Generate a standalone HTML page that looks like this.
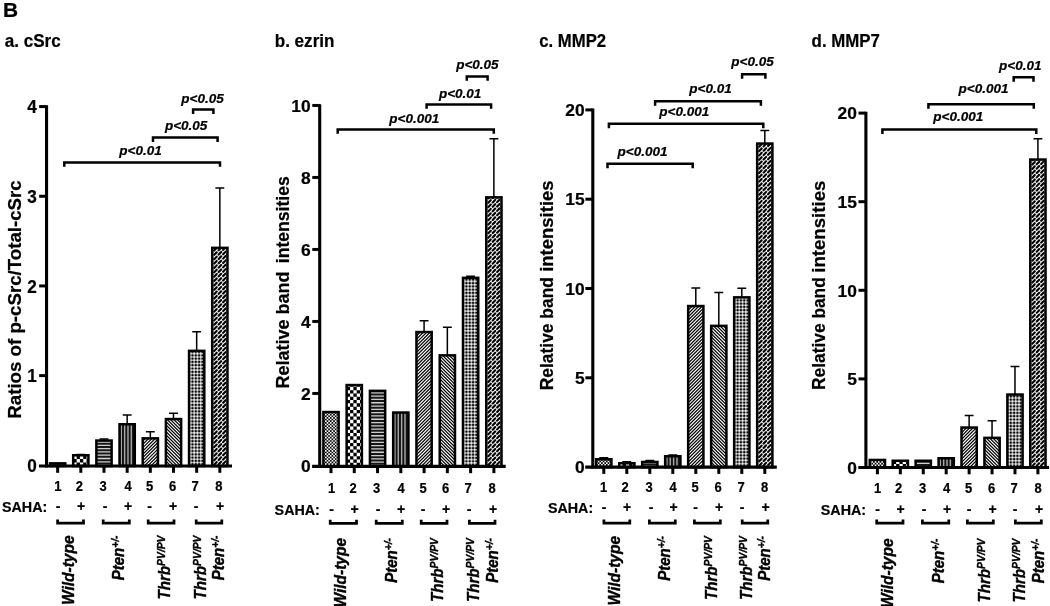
<!DOCTYPE html>
<html><head><meta charset="utf-8"><title>Figure B</title>
<style>
html,body{margin:0;padding:0;background:#fff;}
body{width:1050px;height:606px;overflow:hidden;}
svg{display:block;}
#fig{opacity:0.999;}
text{font-family:"Liberation Sans", sans-serif;font-weight:bold;fill:#000;stroke:#000;stroke-width:0.22px;stroke-linejoin:round;}
.it{font-style:italic;}
.rot{stroke-width:0.4px;}
.it{font-style:italic;}
</style></head><body>
<svg id="fig" width="1050" height="606" viewBox="0 0 1050 606">

<defs><filter id="soft" x="-5%" y="-5%" width="110%" height="110%"><feConvolveMatrix order="3" kernelMatrix="0.01 0.07 0.01 0.07 0.68 0.07 0.01 0.07 0.01" divisor="1" edgeMode="duplicate" preserveAlpha="true" color-interpolation-filters="sRGB"/></filter></defs>
<rect width="1050" height="606" fill="#fff"/>
<text x="3.0" y="16.7" font-size="20.9">B</text>

<g>
<text transform="translate(4.7,46.75) scale(0.9546,1)" font-size="17.9">a. cSrc</text>
<text transform="translate(21.0,299.5) rotate(-90)" text-anchor="middle" font-size="18.7">Ratios of p-cSrc/Total-cSrc</text>
<svg x="49.77" y="463.10" width="15.75" height="2.90" viewBox="1 -2.90 15.75 2.90" overflow="hidden"><g><rect x="0" y="-4.90" width="17.75" height="5.90" fill="#000"/><path d="M-2.10,-0.62H18.75M-2.10,-3.92H18.75" stroke="#fff" stroke-width="1.65" stroke-dasharray="1.65 1.65" fill="none"/><path d="M-0.45,-2.27H18.75" stroke="#fff" stroke-width="1.65" stroke-dasharray="1.65 1.65" fill="none"/></g></svg>
<rect x="50.02" y="463.35" width="15.25" height="2.65" fill="none" stroke="#000" stroke-width="2.5"/>
<path d="M80.82,455.00 V454.40 M76.37,454.40 H85.27" stroke="#000" stroke-width="1.5" fill="none"/>
<svg x="72.94" y="455.00" width="15.75" height="11.00" viewBox="1 -11.00 15.75 11.00" overflow="hidden"><g><rect x="0" y="-13.00" width="17.75" height="14.00" fill="#000"/><path d="M-5.20,-1.95H18.75M-5.20,-8.55H18.75M-5.20,-15.15H18.75" stroke="#fff" stroke-width="3.3" stroke-dasharray="3.3 3.3" fill="none"/><path d="M-1.90,-5.25H18.75M-1.90,-11.85H18.75" stroke="#fff" stroke-width="3.3" stroke-dasharray="3.3 3.3" fill="none"/></g></svg>
<rect x="73.19" y="455.25" width="15.25" height="10.75" fill="none" stroke="#000" stroke-width="2.5"/>
<path d="M103.99,440.30 V438.95 M99.54,438.95 H108.44" stroke="#000" stroke-width="1.5" fill="none"/>
<svg x="96.12" y="440.30" width="15.75" height="25.70" viewBox="1 -25.70 15.75 25.70" overflow="hidden"><g filter="url(#soft)"><rect x="0" y="-27.70" width="17.75" height="28.70" fill="#000"/><path d="M0,-0.90H17.75M0,-4.20H17.75M0,-7.50H17.75M0,-10.80H17.75M0,-14.10H17.75M0,-17.40H17.75M0,-20.70H17.75M0,-24.00H17.75M0,-27.30H17.75" stroke="#f2f2f2" stroke-width="1.3" fill="none"/></g></svg>
<rect x="96.37" y="440.55" width="15.25" height="25.45" fill="none" stroke="#000" stroke-width="2.5"/>
<path d="M127.16,424.00 V415.00 M122.71,415.00 H131.61" stroke="#000" stroke-width="1.5" fill="none"/>
<svg x="119.28" y="424.00" width="15.75" height="42.00" viewBox="1 -42.00 15.75 42.00" overflow="hidden"><g filter="url(#soft)"><rect x="0" y="-44.00" width="17.75" height="45.00" fill="#000"/><path d="M3.00,-44.00V1M6.35,-44.00V1M9.70,-44.00V1M13.05,-44.00V1M16.40,-44.00V1" stroke="#c4c4c4" stroke-width="1.4" fill="none"/></g></svg>
<rect x="119.53" y="424.25" width="15.25" height="41.75" fill="none" stroke="#000" stroke-width="2.5"/>
<path d="M150.33,438.10 V431.70 M145.88,431.70 H154.78" stroke="#000" stroke-width="1.5" fill="none"/>
<svg x="142.46" y="438.10" width="15.75" height="27.90" viewBox="1 -27.90 15.75 27.90" overflow="hidden"><g><rect x="0" y="-29.90" width="17.75" height="30.90" fill="#000"/><path d="M-1,-34.10L18.75,-53.85M-1,-30.80L18.75,-50.55M-1,-27.50L18.75,-47.25M-1,-24.20L18.75,-43.95M-1,-20.90L18.75,-40.65M-1,-17.60L18.75,-37.35M-1,-14.30L18.75,-34.05M-1,-11.00L18.75,-30.75M-1,-7.70L18.75,-27.45M-1,-4.40L18.75,-24.15M-1,-1.10L18.75,-20.85M-1,2.20L18.75,-17.55M-1,5.50L18.75,-14.25M-1,8.80L18.75,-10.95M-1,12.10L18.75,-7.65M-1,15.40L18.75,-4.35M-1,18.70L18.75,-1.05" stroke="#fff" stroke-width="1.12" fill="none"/></g></svg>
<rect x="142.71" y="438.35" width="15.25" height="27.65" fill="none" stroke="#000" stroke-width="2.5"/>
<path d="M173.50,418.80 V413.20 M169.05,413.20 H177.95" stroke="#000" stroke-width="1.5" fill="none"/>
<svg x="165.62" y="418.80" width="15.75" height="47.20" viewBox="1 -47.20 15.75 47.20" overflow="hidden"><g><rect x="0" y="-49.20" width="17.75" height="50.20" fill="#000"/><path d="M-1,1.10L18.75,20.85M-1,-2.20L18.75,17.55M-1,-5.50L18.75,14.25M-1,-8.80L18.75,10.95M-1,-12.10L18.75,7.65M-1,-15.40L18.75,4.35M-1,-18.70L18.75,1.05M-1,-22.00L18.75,-2.25M-1,-25.30L18.75,-5.55M-1,-28.60L18.75,-8.85M-1,-31.90L18.75,-12.15M-1,-35.20L18.75,-15.45M-1,-38.50L18.75,-18.75M-1,-41.80L18.75,-22.05M-1,-45.10L18.75,-25.35M-1,-48.40L18.75,-28.65M-1,-51.70L18.75,-31.95M-1,-55.00L18.75,-35.25M-1,-58.30L18.75,-38.55M-1,-61.60L18.75,-41.85M-1,-64.90L18.75,-45.15M-1,-68.20L18.75,-48.45M-1,-71.50L18.75,-51.75" stroke="#fff" stroke-width="1.12" fill="none"/></g></svg>
<rect x="165.88" y="419.05" width="15.25" height="46.95" fill="none" stroke="#000" stroke-width="2.5"/>
<path d="M196.67,350.60 V331.70 M192.22,331.70 H201.12" stroke="#000" stroke-width="1.5" fill="none"/>
<svg x="188.80" y="350.60" width="15.75" height="115.40" viewBox="1 -115.40 15.75 115.40" overflow="hidden"><g><rect x="0" y="-117.40" width="17.75" height="118.40" fill="#000"/><path d="M3.05,-117.40V1M6.35,-117.40V1M9.65,-117.40V1M12.95,-117.40V1M16.25,-117.40V1" stroke="#fff" stroke-opacity="0.6" stroke-width="1.6" fill="none"/><path d="M0,-0.15H17.75M0,-3.45H17.75M0,-6.75H17.75M0,-10.05H17.75M0,-13.35H17.75M0,-16.65H17.75M0,-19.95H17.75M0,-23.25H17.75M0,-26.55H17.75M0,-29.85H17.75M0,-33.15H17.75M0,-36.45H17.75M0,-39.75H17.75M0,-43.05H17.75M0,-46.35H17.75M0,-49.65H17.75M0,-52.95H17.75M0,-56.25H17.75M0,-59.55H17.75M0,-62.85H17.75M0,-66.15H17.75M0,-69.45H17.75M0,-72.75H17.75M0,-76.05H17.75M0,-79.35H17.75M0,-82.65H17.75M0,-85.95H17.75M0,-89.25H17.75M0,-92.55H17.75M0,-95.85H17.75M0,-99.15H17.75M0,-102.45H17.75M0,-105.75H17.75M0,-109.05H17.75M0,-112.35H17.75M0,-115.65H17.75" stroke="#fff" stroke-opacity="0.6" stroke-width="1.6" fill="none"/><path d="M2.50,-0.15h1.1M5.80,-0.15h1.1M9.10,-0.15h1.1M12.40,-0.15h1.1M15.70,-0.15h1.1M2.50,-3.45h1.1M5.80,-3.45h1.1M9.10,-3.45h1.1M12.40,-3.45h1.1M15.70,-3.45h1.1M2.50,-6.75h1.1M5.80,-6.75h1.1M9.10,-6.75h1.1M12.40,-6.75h1.1M15.70,-6.75h1.1M2.50,-10.05h1.1M5.80,-10.05h1.1M9.10,-10.05h1.1M12.40,-10.05h1.1M15.70,-10.05h1.1M2.50,-13.35h1.1M5.80,-13.35h1.1M9.10,-13.35h1.1M12.40,-13.35h1.1M15.70,-13.35h1.1M2.50,-16.65h1.1M5.80,-16.65h1.1M9.10,-16.65h1.1M12.40,-16.65h1.1M15.70,-16.65h1.1M2.50,-19.95h1.1M5.80,-19.95h1.1M9.10,-19.95h1.1M12.40,-19.95h1.1M15.70,-19.95h1.1M2.50,-23.25h1.1M5.80,-23.25h1.1M9.10,-23.25h1.1M12.40,-23.25h1.1M15.70,-23.25h1.1M2.50,-26.55h1.1M5.80,-26.55h1.1M9.10,-26.55h1.1M12.40,-26.55h1.1M15.70,-26.55h1.1M2.50,-29.85h1.1M5.80,-29.85h1.1M9.10,-29.85h1.1M12.40,-29.85h1.1M15.70,-29.85h1.1M2.50,-33.15h1.1M5.80,-33.15h1.1M9.10,-33.15h1.1M12.40,-33.15h1.1M15.70,-33.15h1.1M2.50,-36.45h1.1M5.80,-36.45h1.1M9.10,-36.45h1.1M12.40,-36.45h1.1M15.70,-36.45h1.1M2.50,-39.75h1.1M5.80,-39.75h1.1M9.10,-39.75h1.1M12.40,-39.75h1.1M15.70,-39.75h1.1M2.50,-43.05h1.1M5.80,-43.05h1.1M9.10,-43.05h1.1M12.40,-43.05h1.1M15.70,-43.05h1.1M2.50,-46.35h1.1M5.80,-46.35h1.1M9.10,-46.35h1.1M12.40,-46.35h1.1M15.70,-46.35h1.1M2.50,-49.65h1.1M5.80,-49.65h1.1M9.10,-49.65h1.1M12.40,-49.65h1.1M15.70,-49.65h1.1M2.50,-52.95h1.1M5.80,-52.95h1.1M9.10,-52.95h1.1M12.40,-52.95h1.1M15.70,-52.95h1.1M2.50,-56.25h1.1M5.80,-56.25h1.1M9.10,-56.25h1.1M12.40,-56.25h1.1M15.70,-56.25h1.1M2.50,-59.55h1.1M5.80,-59.55h1.1M9.10,-59.55h1.1M12.40,-59.55h1.1M15.70,-59.55h1.1M2.50,-62.85h1.1M5.80,-62.85h1.1M9.10,-62.85h1.1M12.40,-62.85h1.1M15.70,-62.85h1.1M2.50,-66.15h1.1M5.80,-66.15h1.1M9.10,-66.15h1.1M12.40,-66.15h1.1M15.70,-66.15h1.1M2.50,-69.45h1.1M5.80,-69.45h1.1M9.10,-69.45h1.1M12.40,-69.45h1.1M15.70,-69.45h1.1M2.50,-72.75h1.1M5.80,-72.75h1.1M9.10,-72.75h1.1M12.40,-72.75h1.1M15.70,-72.75h1.1M2.50,-76.05h1.1M5.80,-76.05h1.1M9.10,-76.05h1.1M12.40,-76.05h1.1M15.70,-76.05h1.1M2.50,-79.35h1.1M5.80,-79.35h1.1M9.10,-79.35h1.1M12.40,-79.35h1.1M15.70,-79.35h1.1M2.50,-82.65h1.1M5.80,-82.65h1.1M9.10,-82.65h1.1M12.40,-82.65h1.1M15.70,-82.65h1.1M2.50,-85.95h1.1M5.80,-85.95h1.1M9.10,-85.95h1.1M12.40,-85.95h1.1M15.70,-85.95h1.1M2.50,-89.25h1.1M5.80,-89.25h1.1M9.10,-89.25h1.1M12.40,-89.25h1.1M15.70,-89.25h1.1M2.50,-92.55h1.1M5.80,-92.55h1.1M9.10,-92.55h1.1M12.40,-92.55h1.1M15.70,-92.55h1.1M2.50,-95.85h1.1M5.80,-95.85h1.1M9.10,-95.85h1.1M12.40,-95.85h1.1M15.70,-95.85h1.1M2.50,-99.15h1.1M5.80,-99.15h1.1M9.10,-99.15h1.1M12.40,-99.15h1.1M15.70,-99.15h1.1M2.50,-102.45h1.1M5.80,-102.45h1.1M9.10,-102.45h1.1M12.40,-102.45h1.1M15.70,-102.45h1.1M2.50,-105.75h1.1M5.80,-105.75h1.1M9.10,-105.75h1.1M12.40,-105.75h1.1M15.70,-105.75h1.1M2.50,-109.05h1.1M5.80,-109.05h1.1M9.10,-109.05h1.1M12.40,-109.05h1.1M15.70,-109.05h1.1M2.50,-112.35h1.1M5.80,-112.35h1.1M9.10,-112.35h1.1M12.40,-112.35h1.1M15.70,-112.35h1.1M2.50,-115.65h1.1M5.80,-115.65h1.1M9.10,-115.65h1.1M12.40,-115.65h1.1M15.70,-115.65h1.1" stroke="#fff" stroke-opacity="0.85" stroke-width="1.1" fill="none"/></g></svg>
<rect x="189.05" y="350.85" width="15.25" height="115.15" fill="none" stroke="#000" stroke-width="2.5"/>
<path d="M219.84,247.60 V188.00 M215.39,188.00 H224.29" stroke="#000" stroke-width="1.5" fill="none"/>
<svg x="211.97" y="247.60" width="15.75" height="218.40" viewBox="1 -218.40 15.75 218.40" overflow="hidden"><g><rect x="0" y="-220.40" width="17.75" height="221.40" fill="#f2f2f2"/><path d="M-1.19,7.64l2.48,-2.60M-1.19,3.27l2.48,-2.60M-1.19,-1.10l2.48,-2.60M-1.19,-5.47l2.48,-2.60M-1.19,-9.84l2.48,-2.60M-1.19,-14.21l2.48,-2.60M-1.19,-18.58l2.48,-2.60M-1.19,-22.95l2.48,-2.60M-1.19,-27.32l2.48,-2.60M-1.19,-31.69l2.48,-2.60M-1.19,-36.06l2.48,-2.60M-1.19,-40.43l2.48,-2.60M-1.19,-44.80l2.48,-2.60M-1.19,-49.17l2.48,-2.60M-1.19,-53.54l2.48,-2.60M-1.19,-57.91l2.48,-2.60M-1.19,-62.28l2.48,-2.60M-1.19,-66.65l2.48,-2.60M-1.19,-71.02l2.48,-2.60M-1.19,-75.39l2.48,-2.60M-1.19,-79.76l2.48,-2.60M-1.19,-84.13l2.48,-2.60M-1.19,-88.50l2.48,-2.60M-1.19,-92.87l2.48,-2.60M-1.19,-97.24l2.48,-2.60M-1.19,-101.61l2.48,-2.60M-1.19,-105.98l2.48,-2.60M-1.19,-110.35l2.48,-2.60M-1.19,-114.72l2.48,-2.60M-1.19,-119.09l2.48,-2.60M-1.19,-123.46l2.48,-2.60M-1.19,-127.83l2.48,-2.60M-1.19,-132.20l2.48,-2.60M-1.19,-136.57l2.48,-2.60M-1.19,-140.94l2.48,-2.60M-1.19,-145.31l2.48,-2.60M-1.19,-149.68l2.48,-2.60M-1.19,-154.05l2.48,-2.60M-1.19,-158.42l2.48,-2.60M-1.19,-162.79l2.48,-2.60M-1.19,-167.16l2.48,-2.60M-1.19,-171.53l2.48,-2.60M-1.19,-175.90l2.48,-2.60M-1.19,-180.27l2.48,-2.60M-1.19,-184.64l2.48,-2.60M-1.19,-189.01l2.48,-2.60M-1.19,-193.38l2.48,-2.60M-1.19,-197.75l2.48,-2.60M-1.19,-202.12l2.48,-2.60M-1.19,-206.49l2.48,-2.60M-1.19,-210.86l2.48,-2.60M-1.19,-215.23l2.48,-2.60M-1.19,-219.60l2.48,-2.60M3.26,7.34l2.48,-2.60M3.26,2.97l2.48,-2.60M3.26,-1.40l2.48,-2.60M3.26,-5.77l2.48,-2.60M3.26,-10.14l2.48,-2.60M3.26,-14.51l2.48,-2.60M3.26,-18.88l2.48,-2.60M3.26,-23.25l2.48,-2.60M3.26,-27.62l2.48,-2.60M3.26,-31.99l2.48,-2.60M3.26,-36.36l2.48,-2.60M3.26,-40.73l2.48,-2.60M3.26,-45.10l2.48,-2.60M3.26,-49.47l2.48,-2.60M3.26,-53.84l2.48,-2.60M3.26,-58.21l2.48,-2.60M3.26,-62.58l2.48,-2.60M3.26,-66.95l2.48,-2.60M3.26,-71.32l2.48,-2.60M3.26,-75.69l2.48,-2.60M3.26,-80.06l2.48,-2.60M3.26,-84.43l2.48,-2.60M3.26,-88.80l2.48,-2.60M3.26,-93.17l2.48,-2.60M3.26,-97.54l2.48,-2.60M3.26,-101.91l2.48,-2.60M3.26,-106.28l2.48,-2.60M3.26,-110.65l2.48,-2.60M3.26,-115.02l2.48,-2.60M3.26,-119.39l2.48,-2.60M3.26,-123.76l2.48,-2.60M3.26,-128.13l2.48,-2.60M3.26,-132.50l2.48,-2.60M3.26,-136.87l2.48,-2.60M3.26,-141.24l2.48,-2.60M3.26,-145.61l2.48,-2.60M3.26,-149.98l2.48,-2.60M3.26,-154.35l2.48,-2.60M3.26,-158.72l2.48,-2.60M3.26,-163.09l2.48,-2.60M3.26,-167.46l2.48,-2.60M3.26,-171.83l2.48,-2.60M3.26,-176.20l2.48,-2.60M3.26,-180.57l2.48,-2.60M3.26,-184.94l2.48,-2.60M3.26,-189.31l2.48,-2.60M3.26,-193.68l2.48,-2.60M3.26,-198.05l2.48,-2.60M3.26,-202.42l2.48,-2.60M3.26,-206.79l2.48,-2.60M3.26,-211.16l2.48,-2.60M3.26,-215.53l2.48,-2.60M3.26,-219.90l2.48,-2.60M7.71,7.04l2.48,-2.60M7.71,2.67l2.48,-2.60M7.71,-1.70l2.48,-2.60M7.71,-6.07l2.48,-2.60M7.71,-10.44l2.48,-2.60M7.71,-14.81l2.48,-2.60M7.71,-19.18l2.48,-2.60M7.71,-23.55l2.48,-2.60M7.71,-27.92l2.48,-2.60M7.71,-32.29l2.48,-2.60M7.71,-36.66l2.48,-2.60M7.71,-41.03l2.48,-2.60M7.71,-45.40l2.48,-2.60M7.71,-49.77l2.48,-2.60M7.71,-54.14l2.48,-2.60M7.71,-58.51l2.48,-2.60M7.71,-62.88l2.48,-2.60M7.71,-67.25l2.48,-2.60M7.71,-71.62l2.48,-2.60M7.71,-75.99l2.48,-2.60M7.71,-80.36l2.48,-2.60M7.71,-84.73l2.48,-2.60M7.71,-89.10l2.48,-2.60M7.71,-93.47l2.48,-2.60M7.71,-97.84l2.48,-2.60M7.71,-102.21l2.48,-2.60M7.71,-106.58l2.48,-2.60M7.71,-110.95l2.48,-2.60M7.71,-115.32l2.48,-2.60M7.71,-119.69l2.48,-2.60M7.71,-124.06l2.48,-2.60M7.71,-128.43l2.48,-2.60M7.71,-132.80l2.48,-2.60M7.71,-137.17l2.48,-2.60M7.71,-141.54l2.48,-2.60M7.71,-145.91l2.48,-2.60M7.71,-150.28l2.48,-2.60M7.71,-154.65l2.48,-2.60M7.71,-159.02l2.48,-2.60M7.71,-163.39l2.48,-2.60M7.71,-167.76l2.48,-2.60M7.71,-172.13l2.48,-2.60M7.71,-176.50l2.48,-2.60M7.71,-180.87l2.48,-2.60M7.71,-185.24l2.48,-2.60M7.71,-189.61l2.48,-2.60M7.71,-193.98l2.48,-2.60M7.71,-198.35l2.48,-2.60M7.71,-202.72l2.48,-2.60M7.71,-207.09l2.48,-2.60M7.71,-211.46l2.48,-2.60M7.71,-215.83l2.48,-2.60M7.71,-220.20l2.48,-2.60M12.16,6.74l2.48,-2.60M12.16,2.37l2.48,-2.60M12.16,-2.00l2.48,-2.60M12.16,-6.37l2.48,-2.60M12.16,-10.74l2.48,-2.60M12.16,-15.11l2.48,-2.60M12.16,-19.48l2.48,-2.60M12.16,-23.85l2.48,-2.60M12.16,-28.22l2.48,-2.60M12.16,-32.59l2.48,-2.60M12.16,-36.96l2.48,-2.60M12.16,-41.33l2.48,-2.60M12.16,-45.70l2.48,-2.60M12.16,-50.07l2.48,-2.60M12.16,-54.44l2.48,-2.60M12.16,-58.81l2.48,-2.60M12.16,-63.18l2.48,-2.60M12.16,-67.55l2.48,-2.60M12.16,-71.92l2.48,-2.60M12.16,-76.29l2.48,-2.60M12.16,-80.66l2.48,-2.60M12.16,-85.03l2.48,-2.60M12.16,-89.40l2.48,-2.60M12.16,-93.77l2.48,-2.60M12.16,-98.14l2.48,-2.60M12.16,-102.51l2.48,-2.60M12.16,-106.88l2.48,-2.60M12.16,-111.25l2.48,-2.60M12.16,-115.62l2.48,-2.60M12.16,-119.99l2.48,-2.60M12.16,-124.36l2.48,-2.60M12.16,-128.73l2.48,-2.60M12.16,-133.10l2.48,-2.60M12.16,-137.47l2.48,-2.60M12.16,-141.84l2.48,-2.60M12.16,-146.21l2.48,-2.60M12.16,-150.58l2.48,-2.60M12.16,-154.95l2.48,-2.60M12.16,-159.32l2.48,-2.60M12.16,-163.69l2.48,-2.60M12.16,-168.06l2.48,-2.60M12.16,-172.43l2.48,-2.60M12.16,-176.80l2.48,-2.60M12.16,-181.17l2.48,-2.60M12.16,-185.54l2.48,-2.60M12.16,-189.91l2.48,-2.60M12.16,-194.28l2.48,-2.60M12.16,-198.65l2.48,-2.60M12.16,-203.02l2.48,-2.60M12.16,-207.39l2.48,-2.60M12.16,-211.76l2.48,-2.60M12.16,-216.13l2.48,-2.60M12.16,-220.50l2.48,-2.60M16.61,6.44l2.48,-2.60M16.61,2.07l2.48,-2.60M16.61,-2.30l2.48,-2.60M16.61,-6.67l2.48,-2.60M16.61,-11.04l2.48,-2.60M16.61,-15.41l2.48,-2.60M16.61,-19.78l2.48,-2.60M16.61,-24.15l2.48,-2.60M16.61,-28.52l2.48,-2.60M16.61,-32.89l2.48,-2.60M16.61,-37.26l2.48,-2.60M16.61,-41.63l2.48,-2.60M16.61,-46.00l2.48,-2.60M16.61,-50.37l2.48,-2.60M16.61,-54.74l2.48,-2.60M16.61,-59.11l2.48,-2.60M16.61,-63.48l2.48,-2.60M16.61,-67.85l2.48,-2.60M16.61,-72.22l2.48,-2.60M16.61,-76.59l2.48,-2.60M16.61,-80.96l2.48,-2.60M16.61,-85.33l2.48,-2.60M16.61,-89.70l2.48,-2.60M16.61,-94.07l2.48,-2.60M16.61,-98.44l2.48,-2.60M16.61,-102.81l2.48,-2.60M16.61,-107.18l2.48,-2.60M16.61,-111.55l2.48,-2.60M16.61,-115.92l2.48,-2.60M16.61,-120.29l2.48,-2.60M16.61,-124.66l2.48,-2.60M16.61,-129.03l2.48,-2.60M16.61,-133.40l2.48,-2.60M16.61,-137.77l2.48,-2.60M16.61,-142.14l2.48,-2.60M16.61,-146.51l2.48,-2.60M16.61,-150.88l2.48,-2.60M16.61,-155.25l2.48,-2.60M16.61,-159.62l2.48,-2.60M16.61,-163.99l2.48,-2.60M16.61,-168.36l2.48,-2.60M16.61,-172.73l2.48,-2.60M16.61,-177.10l2.48,-2.60M16.61,-181.47l2.48,-2.60M16.61,-185.84l2.48,-2.60M16.61,-190.21l2.48,-2.60M16.61,-194.58l2.48,-2.60M16.61,-198.95l2.48,-2.60M16.61,-203.32l2.48,-2.60M16.61,-207.69l2.48,-2.60M16.61,-212.06l2.48,-2.60M16.61,-216.43l2.48,-2.60M16.61,-220.80l2.48,-2.60M21.06,6.14l2.48,-2.60M21.06,1.77l2.48,-2.60M21.06,-2.60l2.48,-2.60M21.06,-6.97l2.48,-2.60M21.06,-11.34l2.48,-2.60M21.06,-15.71l2.48,-2.60M21.06,-20.08l2.48,-2.60M21.06,-24.45l2.48,-2.60M21.06,-28.82l2.48,-2.60M21.06,-33.19l2.48,-2.60M21.06,-37.56l2.48,-2.60M21.06,-41.93l2.48,-2.60M21.06,-46.30l2.48,-2.60M21.06,-50.67l2.48,-2.60M21.06,-55.04l2.48,-2.60M21.06,-59.41l2.48,-2.60M21.06,-63.78l2.48,-2.60M21.06,-68.15l2.48,-2.60M21.06,-72.52l2.48,-2.60M21.06,-76.89l2.48,-2.60M21.06,-81.26l2.48,-2.60M21.06,-85.63l2.48,-2.60M21.06,-90.00l2.48,-2.60M21.06,-94.37l2.48,-2.60M21.06,-98.74l2.48,-2.60M21.06,-103.11l2.48,-2.60M21.06,-107.48l2.48,-2.60M21.06,-111.85l2.48,-2.60M21.06,-116.22l2.48,-2.60M21.06,-120.59l2.48,-2.60M21.06,-124.96l2.48,-2.60M21.06,-129.33l2.48,-2.60M21.06,-133.70l2.48,-2.60M21.06,-138.07l2.48,-2.60M21.06,-142.44l2.48,-2.60M21.06,-146.81l2.48,-2.60M21.06,-151.18l2.48,-2.60M21.06,-155.55l2.48,-2.60M21.06,-159.92l2.48,-2.60M21.06,-164.29l2.48,-2.60M21.06,-168.66l2.48,-2.60M21.06,-173.03l2.48,-2.60M21.06,-177.40l2.48,-2.60M21.06,-181.77l2.48,-2.60M21.06,-186.14l2.48,-2.60M21.06,-190.51l2.48,-2.60M21.06,-194.88l2.48,-2.60M21.06,-199.25l2.48,-2.60M21.06,-203.62l2.48,-2.60M21.06,-207.99l2.48,-2.60M21.06,-212.36l2.48,-2.60M21.06,-216.73l2.48,-2.60M21.06,-221.10l2.48,-2.60" stroke="#000" stroke-width="2.1" stroke-linecap="round" fill="none"/></g></svg>
<rect x="212.22" y="247.85" width="15.25" height="218.15" fill="none" stroke="#000" stroke-width="2.5"/>
<path d="M46.55,105.28 V467.50" stroke="#000" stroke-width="3.1" fill="none"/>
<path d="M38.95,466.00 H232.0" stroke="#000" stroke-width="3.1" fill="none"/>
<text transform="translate(36.9,471.99) scale(0.92,1)" text-anchor="end" font-size="18.7">0</text>
<path d="M39.15,375.62 H46.55" stroke="#000" stroke-width="3.0" fill="none"/>
<text transform="translate(36.9,382.31) scale(0.92,1)" text-anchor="end" font-size="18.7">1</text>
<path d="M39.15,285.94 H46.55" stroke="#000" stroke-width="3.0" fill="none"/>
<text transform="translate(36.9,292.63) scale(0.92,1)" text-anchor="end" font-size="18.7">2</text>
<path d="M39.15,196.26 H46.55" stroke="#000" stroke-width="3.0" fill="none"/>
<text transform="translate(36.9,202.95) scale(0.92,1)" text-anchor="end" font-size="18.7">3</text>
<path d="M39.15,106.58 H46.55" stroke="#000" stroke-width="3.0" fill="none"/>
<text transform="translate(36.9,113.27) scale(0.92,1)" text-anchor="end" font-size="18.7">4</text>
<path d="M57.65,466.00 V472.80" stroke="#000" stroke-width="3.0" fill="none"/>
<text transform="translate(57.80,490.6) scale(0.94,1)" text-anchor="middle" font-size="13.8">1</text>
<text x="58.00" y="511.30" text-anchor="middle" font-size="14">-</text>
<path d="M80.82,466.00 V472.80" stroke="#000" stroke-width="3.0" fill="none"/>
<text transform="translate(79.40,490.6) scale(0.94,1)" text-anchor="middle" font-size="13.8">2</text>
<text x="81.00" y="511.30" text-anchor="middle" font-size="14">+</text>
<path d="M103.99,466.00 V472.80" stroke="#000" stroke-width="3.0" fill="none"/>
<text transform="translate(103.20,490.6) scale(0.94,1)" text-anchor="middle" font-size="13.8">3</text>
<text x="105.00" y="511.30" text-anchor="middle" font-size="14">-</text>
<path d="M127.16,466.00 V472.80" stroke="#000" stroke-width="3.0" fill="none"/>
<text transform="translate(128.00,490.6) scale(0.94,1)" text-anchor="middle" font-size="13.8">4</text>
<text x="128.00" y="511.30" text-anchor="middle" font-size="14">+</text>
<path d="M150.33,466.00 V472.80" stroke="#000" stroke-width="3.0" fill="none"/>
<text transform="translate(149.50,490.6) scale(0.94,1)" text-anchor="middle" font-size="13.8">5</text>
<text x="149.60" y="511.30" text-anchor="middle" font-size="14">-</text>
<path d="M173.50,466.00 V472.80" stroke="#000" stroke-width="3.0" fill="none"/>
<text transform="translate(172.50,490.6) scale(0.94,1)" text-anchor="middle" font-size="13.8">6</text>
<text x="173.00" y="511.30" text-anchor="middle" font-size="14">+</text>
<path d="M196.67,466.00 V472.80" stroke="#000" stroke-width="3.0" fill="none"/>
<text transform="translate(195.20,490.6) scale(0.94,1)" text-anchor="middle" font-size="13.8">7</text>
<text x="196.00" y="511.30" text-anchor="middle" font-size="14">-</text>
<path d="M219.84,466.00 V472.80" stroke="#000" stroke-width="3.0" fill="none"/>
<text transform="translate(218.80,490.6) scale(0.94,1)" text-anchor="middle" font-size="13.8">8</text>
<text x="220.00" y="511.30" text-anchor="middle" font-size="14">+</text>
<text x="2.0" y="512.1" font-size="14.3">SAHA:</text>
<path d="M57.60,519.60 V523.20 H83.50 V519.60" stroke="#000" stroke-width="2.75" fill="none" stroke-linejoin="miter"/>
<path d="M103.20,519.60 V523.20 H129.30 V519.60" stroke="#000" stroke-width="2.75" fill="none" stroke-linejoin="miter"/>
<path d="M148.20,519.60 V523.20 H174.00 V519.60" stroke="#000" stroke-width="2.75" fill="none" stroke-linejoin="miter"/>
<path d="M196.20,519.60 V523.20 H221.80 V519.60" stroke="#000" stroke-width="2.75" fill="none" stroke-linejoin="miter"/>
<text class="it rot" transform="translate(74.00,535.5) rotate(-90) scale(0.912,1)" text-anchor="end" font-size="17">Wild-type</text>
<text class="it rot" transform="translate(124.00,535.5) rotate(-90) scale(0.885,1)" text-anchor="end" font-size="17">Pten<tspan font-size="11.6" dy="-4.9">+/-</tspan></text>
<text class="it rot" transform="translate(170.00,535.5) rotate(-90) scale(0.89,1)" text-anchor="end" font-size="17">Thrb<tspan font-size="11.6" dy="-4.9">PV/PV</tspan></text>
<text class="it rot" transform="translate(206.00,535.5) rotate(-90) scale(0.89,1)" text-anchor="end" font-size="17">Thrb<tspan font-size="11.6" dy="-4.9">PV/PV</tspan></text>
<text class="it rot" transform="translate(224.00,535.5) rotate(-90) scale(0.885,1)" text-anchor="end" font-size="17">Pten<tspan font-size="11.6" dy="-4.9">+/-</tspan></text>
<text class="it" x="181.30" y="102.5" font-size="13.5">p&lt;0.05</text>
<path d="M193.10,113.90 V109.50 H213.40 V113.90" stroke="#000" stroke-width="2.5" fill="none"/>
<text class="it" x="164.90" y="130.4" font-size="13.5">p&lt;0.05</text>
<path d="M153.00,141.90 V137.50 H217.60 V141.90" stroke="#000" stroke-width="2.5" fill="none"/>
<text class="it" x="119.30" y="154.6" font-size="13.5">p&lt;0.01</text>
<path d="M64.30,166.80 V162.40 H220.00 V166.80" stroke="#000" stroke-width="2.5" fill="none"/>
</g>
<g>
<text transform="translate(274.7,46.75) scale(0.9546,1)" font-size="17.9">b. ezrin</text>
<text transform="translate(288.9,388.50) rotate(-90)" font-size="18.0" textLength="117.00" lengthAdjust="spacingAndGlyphs">Relative band</text>
<text transform="translate(288.9,263.20) rotate(-90)" font-size="18.0" textLength="86.90" lengthAdjust="spacingAndGlyphs">intensities</text>
<svg x="323.12" y="411.80" width="15.75" height="54.55" viewBox="1 -54.55 15.75 54.55" overflow="hidden"><g><rect x="0" y="-56.55" width="17.75" height="57.55" fill="#000"/><path d="M-2.10,-0.62H18.75M-2.10,-3.92H18.75M-2.10,-7.22H18.75M-2.10,-10.52H18.75M-2.10,-13.82H18.75M-2.10,-17.12H18.75M-2.10,-20.42H18.75M-2.10,-23.72H18.75M-2.10,-27.02H18.75M-2.10,-30.32H18.75M-2.10,-33.62H18.75M-2.10,-36.92H18.75M-2.10,-40.22H18.75M-2.10,-43.52H18.75M-2.10,-46.82H18.75M-2.10,-50.12H18.75M-2.10,-53.42H18.75M-2.10,-56.72H18.75" stroke="#fff" stroke-width="1.65" stroke-dasharray="1.65 1.65" fill="none"/><path d="M-0.45,-2.27H18.75M-0.45,-5.57H18.75M-0.45,-8.88H18.75M-0.45,-12.17H18.75M-0.45,-15.47H18.75M-0.45,-18.77H18.75M-0.45,-22.07H18.75M-0.45,-25.38H18.75M-0.45,-28.67H18.75M-0.45,-31.97H18.75M-0.45,-35.27H18.75M-0.45,-38.57H18.75M-0.45,-41.88H18.75M-0.45,-45.17H18.75M-0.45,-48.47H18.75M-0.45,-51.77H18.75M-0.45,-55.07H18.75" stroke="#fff" stroke-width="1.65" stroke-dasharray="1.65 1.65" fill="none"/></g></svg>
<rect x="323.38" y="412.05" width="15.25" height="54.30" fill="none" stroke="#000" stroke-width="2.5"/>
<svg x="346.39" y="384.80" width="15.75" height="81.55" viewBox="1 -81.55 15.75 81.55" overflow="hidden"><g><rect x="0" y="-83.55" width="17.75" height="84.55" fill="#000"/><path d="M-5.20,-1.95H18.75M-5.20,-8.55H18.75M-5.20,-15.15H18.75M-5.20,-21.75H18.75M-5.20,-28.35H18.75M-5.20,-34.95H18.75M-5.20,-41.55H18.75M-5.20,-48.15H18.75M-5.20,-54.75H18.75M-5.20,-61.35H18.75M-5.20,-67.95H18.75M-5.20,-74.55H18.75M-5.20,-81.15H18.75" stroke="#fff" stroke-width="3.3" stroke-dasharray="3.3 3.3" fill="none"/><path d="M-1.90,-5.25H18.75M-1.90,-11.85H18.75M-1.90,-18.45H18.75M-1.90,-25.05H18.75M-1.90,-31.65H18.75M-1.90,-38.25H18.75M-1.90,-44.85H18.75M-1.90,-51.45H18.75M-1.90,-58.05H18.75M-1.90,-64.65H18.75M-1.90,-71.25H18.75M-1.90,-77.85H18.75M-1.90,-84.45H18.75" stroke="#fff" stroke-width="3.3" stroke-dasharray="3.3 3.3" fill="none"/></g></svg>
<rect x="346.64" y="385.05" width="15.25" height="81.30" fill="none" stroke="#000" stroke-width="2.5"/>
<svg x="369.67" y="390.60" width="15.75" height="75.75" viewBox="1 -75.75 15.75 75.75" overflow="hidden"><g filter="url(#soft)"><rect x="0" y="-77.75" width="17.75" height="78.75" fill="#000"/><path d="M0,-0.90H17.75M0,-4.20H17.75M0,-7.50H17.75M0,-10.80H17.75M0,-14.10H17.75M0,-17.40H17.75M0,-20.70H17.75M0,-24.00H17.75M0,-27.30H17.75M0,-30.60H17.75M0,-33.90H17.75M0,-37.20H17.75M0,-40.50H17.75M0,-43.80H17.75M0,-47.10H17.75M0,-50.40H17.75M0,-53.70H17.75M0,-57.00H17.75M0,-60.30H17.75M0,-63.60H17.75M0,-66.90H17.75M0,-70.20H17.75M0,-73.50H17.75M0,-76.80H17.75" stroke="#f2f2f2" stroke-width="1.3" fill="none"/></g></svg>
<rect x="369.92" y="390.85" width="15.25" height="75.50" fill="none" stroke="#000" stroke-width="2.5"/>
<svg x="392.94" y="412.30" width="15.75" height="54.05" viewBox="1 -54.05 15.75 54.05" overflow="hidden"><g filter="url(#soft)"><rect x="0" y="-56.05" width="17.75" height="57.05" fill="#000"/><path d="M3.00,-56.05V1M6.35,-56.05V1M9.70,-56.05V1M13.05,-56.05V1M16.40,-56.05V1" stroke="#c4c4c4" stroke-width="1.4" fill="none"/></g></svg>
<rect x="393.19" y="412.55" width="15.25" height="53.80" fill="none" stroke="#000" stroke-width="2.5"/>
<path d="M424.08,331.80 V320.70 M419.63,320.70 H428.53" stroke="#000" stroke-width="1.5" fill="none"/>
<svg x="416.20" y="331.80" width="15.75" height="134.55" viewBox="1 -134.55 15.75 134.55" overflow="hidden"><g><rect x="0" y="-136.55" width="17.75" height="137.55" fill="#000"/><path d="M-1,-139.70L18.75,-159.45M-1,-136.40L18.75,-156.15M-1,-133.10L18.75,-152.85M-1,-129.80L18.75,-149.55M-1,-126.50L18.75,-146.25M-1,-123.20L18.75,-142.95M-1,-119.90L18.75,-139.65M-1,-116.60L18.75,-136.35M-1,-113.30L18.75,-133.05M-1,-110.00L18.75,-129.75M-1,-106.70L18.75,-126.45M-1,-103.40L18.75,-123.15M-1,-100.10L18.75,-119.85M-1,-96.80L18.75,-116.55M-1,-93.50L18.75,-113.25M-1,-90.20L18.75,-109.95M-1,-86.90L18.75,-106.65M-1,-83.60L18.75,-103.35M-1,-80.30L18.75,-100.05M-1,-77.00L18.75,-96.75M-1,-73.70L18.75,-93.45M-1,-70.40L18.75,-90.15M-1,-67.10L18.75,-86.85M-1,-63.80L18.75,-83.55M-1,-60.50L18.75,-80.25M-1,-57.20L18.75,-76.95M-1,-53.90L18.75,-73.65M-1,-50.60L18.75,-70.35M-1,-47.30L18.75,-67.05M-1,-44.00L18.75,-63.75M-1,-40.70L18.75,-60.45M-1,-37.40L18.75,-57.15M-1,-34.10L18.75,-53.85M-1,-30.80L18.75,-50.55M-1,-27.50L18.75,-47.25M-1,-24.20L18.75,-43.95M-1,-20.90L18.75,-40.65M-1,-17.60L18.75,-37.35M-1,-14.30L18.75,-34.05M-1,-11.00L18.75,-30.75M-1,-7.70L18.75,-27.45M-1,-4.40L18.75,-24.15M-1,-1.10L18.75,-20.85M-1,2.20L18.75,-17.55M-1,5.50L18.75,-14.25M-1,8.80L18.75,-10.95M-1,12.10L18.75,-7.65M-1,15.40L18.75,-4.35M-1,18.70L18.75,-1.05" stroke="#fff" stroke-width="1.12" fill="none"/></g></svg>
<rect x="416.45" y="332.05" width="15.25" height="134.30" fill="none" stroke="#000" stroke-width="2.5"/>
<path d="M447.35,355.10 V327.20 M442.90,327.20 H451.80" stroke="#000" stroke-width="1.5" fill="none"/>
<svg x="439.48" y="355.10" width="15.75" height="111.25" viewBox="1 -111.25 15.75 111.25" overflow="hidden"><g><rect x="0" y="-113.25" width="17.75" height="114.25" fill="#000"/><path d="M-1,1.10L18.75,20.85M-1,-2.20L18.75,17.55M-1,-5.50L18.75,14.25M-1,-8.80L18.75,10.95M-1,-12.10L18.75,7.65M-1,-15.40L18.75,4.35M-1,-18.70L18.75,1.05M-1,-22.00L18.75,-2.25M-1,-25.30L18.75,-5.55M-1,-28.60L18.75,-8.85M-1,-31.90L18.75,-12.15M-1,-35.20L18.75,-15.45M-1,-38.50L18.75,-18.75M-1,-41.80L18.75,-22.05M-1,-45.10L18.75,-25.35M-1,-48.40L18.75,-28.65M-1,-51.70L18.75,-31.95M-1,-55.00L18.75,-35.25M-1,-58.30L18.75,-38.55M-1,-61.60L18.75,-41.85M-1,-64.90L18.75,-45.15M-1,-68.20L18.75,-48.45M-1,-71.50L18.75,-51.75M-1,-74.80L18.75,-55.05M-1,-78.10L18.75,-58.35M-1,-81.40L18.75,-61.65M-1,-84.70L18.75,-64.95M-1,-88.00L18.75,-68.25M-1,-91.30L18.75,-71.55M-1,-94.60L18.75,-74.85M-1,-97.90L18.75,-78.15M-1,-101.20L18.75,-81.45M-1,-104.50L18.75,-84.75M-1,-107.80L18.75,-88.05M-1,-111.10L18.75,-91.35M-1,-114.40L18.75,-94.65M-1,-117.70L18.75,-97.95M-1,-121.00L18.75,-101.25M-1,-124.30L18.75,-104.55M-1,-127.60L18.75,-107.85M-1,-130.90L18.75,-111.15M-1,-134.20L18.75,-114.45" stroke="#fff" stroke-width="1.12" fill="none"/></g></svg>
<rect x="439.73" y="355.35" width="15.25" height="111.00" fill="none" stroke="#000" stroke-width="2.5"/>
<path d="M470.62,277.60 V276.30 M466.17,276.30 H475.07" stroke="#000" stroke-width="1.5" fill="none"/>
<svg x="462.75" y="277.60" width="15.75" height="188.75" viewBox="1 -188.75 15.75 188.75" overflow="hidden"><g><rect x="0" y="-190.75" width="17.75" height="191.75" fill="#000"/><path d="M3.05,-190.75V1M6.35,-190.75V1M9.65,-190.75V1M12.95,-190.75V1M16.25,-190.75V1" stroke="#fff" stroke-opacity="0.6" stroke-width="1.6" fill="none"/><path d="M0,-0.15H17.75M0,-3.45H17.75M0,-6.75H17.75M0,-10.05H17.75M0,-13.35H17.75M0,-16.65H17.75M0,-19.95H17.75M0,-23.25H17.75M0,-26.55H17.75M0,-29.85H17.75M0,-33.15H17.75M0,-36.45H17.75M0,-39.75H17.75M0,-43.05H17.75M0,-46.35H17.75M0,-49.65H17.75M0,-52.95H17.75M0,-56.25H17.75M0,-59.55H17.75M0,-62.85H17.75M0,-66.15H17.75M0,-69.45H17.75M0,-72.75H17.75M0,-76.05H17.75M0,-79.35H17.75M0,-82.65H17.75M0,-85.95H17.75M0,-89.25H17.75M0,-92.55H17.75M0,-95.85H17.75M0,-99.15H17.75M0,-102.45H17.75M0,-105.75H17.75M0,-109.05H17.75M0,-112.35H17.75M0,-115.65H17.75M0,-118.95H17.75M0,-122.25H17.75M0,-125.55H17.75M0,-128.85H17.75M0,-132.15H17.75M0,-135.45H17.75M0,-138.75H17.75M0,-142.05H17.75M0,-145.35H17.75M0,-148.65H17.75M0,-151.95H17.75M0,-155.25H17.75M0,-158.55H17.75M0,-161.85H17.75M0,-165.15H17.75M0,-168.45H17.75M0,-171.75H17.75M0,-175.05H17.75M0,-178.35H17.75M0,-181.65H17.75M0,-184.95H17.75M0,-188.25H17.75M0,-191.55H17.75" stroke="#fff" stroke-opacity="0.6" stroke-width="1.6" fill="none"/><path d="M2.50,-0.15h1.1M5.80,-0.15h1.1M9.10,-0.15h1.1M12.40,-0.15h1.1M15.70,-0.15h1.1M2.50,-3.45h1.1M5.80,-3.45h1.1M9.10,-3.45h1.1M12.40,-3.45h1.1M15.70,-3.45h1.1M2.50,-6.75h1.1M5.80,-6.75h1.1M9.10,-6.75h1.1M12.40,-6.75h1.1M15.70,-6.75h1.1M2.50,-10.05h1.1M5.80,-10.05h1.1M9.10,-10.05h1.1M12.40,-10.05h1.1M15.70,-10.05h1.1M2.50,-13.35h1.1M5.80,-13.35h1.1M9.10,-13.35h1.1M12.40,-13.35h1.1M15.70,-13.35h1.1M2.50,-16.65h1.1M5.80,-16.65h1.1M9.10,-16.65h1.1M12.40,-16.65h1.1M15.70,-16.65h1.1M2.50,-19.95h1.1M5.80,-19.95h1.1M9.10,-19.95h1.1M12.40,-19.95h1.1M15.70,-19.95h1.1M2.50,-23.25h1.1M5.80,-23.25h1.1M9.10,-23.25h1.1M12.40,-23.25h1.1M15.70,-23.25h1.1M2.50,-26.55h1.1M5.80,-26.55h1.1M9.10,-26.55h1.1M12.40,-26.55h1.1M15.70,-26.55h1.1M2.50,-29.85h1.1M5.80,-29.85h1.1M9.10,-29.85h1.1M12.40,-29.85h1.1M15.70,-29.85h1.1M2.50,-33.15h1.1M5.80,-33.15h1.1M9.10,-33.15h1.1M12.40,-33.15h1.1M15.70,-33.15h1.1M2.50,-36.45h1.1M5.80,-36.45h1.1M9.10,-36.45h1.1M12.40,-36.45h1.1M15.70,-36.45h1.1M2.50,-39.75h1.1M5.80,-39.75h1.1M9.10,-39.75h1.1M12.40,-39.75h1.1M15.70,-39.75h1.1M2.50,-43.05h1.1M5.80,-43.05h1.1M9.10,-43.05h1.1M12.40,-43.05h1.1M15.70,-43.05h1.1M2.50,-46.35h1.1M5.80,-46.35h1.1M9.10,-46.35h1.1M12.40,-46.35h1.1M15.70,-46.35h1.1M2.50,-49.65h1.1M5.80,-49.65h1.1M9.10,-49.65h1.1M12.40,-49.65h1.1M15.70,-49.65h1.1M2.50,-52.95h1.1M5.80,-52.95h1.1M9.10,-52.95h1.1M12.40,-52.95h1.1M15.70,-52.95h1.1M2.50,-56.25h1.1M5.80,-56.25h1.1M9.10,-56.25h1.1M12.40,-56.25h1.1M15.70,-56.25h1.1M2.50,-59.55h1.1M5.80,-59.55h1.1M9.10,-59.55h1.1M12.40,-59.55h1.1M15.70,-59.55h1.1M2.50,-62.85h1.1M5.80,-62.85h1.1M9.10,-62.85h1.1M12.40,-62.85h1.1M15.70,-62.85h1.1M2.50,-66.15h1.1M5.80,-66.15h1.1M9.10,-66.15h1.1M12.40,-66.15h1.1M15.70,-66.15h1.1M2.50,-69.45h1.1M5.80,-69.45h1.1M9.10,-69.45h1.1M12.40,-69.45h1.1M15.70,-69.45h1.1M2.50,-72.75h1.1M5.80,-72.75h1.1M9.10,-72.75h1.1M12.40,-72.75h1.1M15.70,-72.75h1.1M2.50,-76.05h1.1M5.80,-76.05h1.1M9.10,-76.05h1.1M12.40,-76.05h1.1M15.70,-76.05h1.1M2.50,-79.35h1.1M5.80,-79.35h1.1M9.10,-79.35h1.1M12.40,-79.35h1.1M15.70,-79.35h1.1M2.50,-82.65h1.1M5.80,-82.65h1.1M9.10,-82.65h1.1M12.40,-82.65h1.1M15.70,-82.65h1.1M2.50,-85.95h1.1M5.80,-85.95h1.1M9.10,-85.95h1.1M12.40,-85.95h1.1M15.70,-85.95h1.1M2.50,-89.25h1.1M5.80,-89.25h1.1M9.10,-89.25h1.1M12.40,-89.25h1.1M15.70,-89.25h1.1M2.50,-92.55h1.1M5.80,-92.55h1.1M9.10,-92.55h1.1M12.40,-92.55h1.1M15.70,-92.55h1.1M2.50,-95.85h1.1M5.80,-95.85h1.1M9.10,-95.85h1.1M12.40,-95.85h1.1M15.70,-95.85h1.1M2.50,-99.15h1.1M5.80,-99.15h1.1M9.10,-99.15h1.1M12.40,-99.15h1.1M15.70,-99.15h1.1M2.50,-102.45h1.1M5.80,-102.45h1.1M9.10,-102.45h1.1M12.40,-102.45h1.1M15.70,-102.45h1.1M2.50,-105.75h1.1M5.80,-105.75h1.1M9.10,-105.75h1.1M12.40,-105.75h1.1M15.70,-105.75h1.1M2.50,-109.05h1.1M5.80,-109.05h1.1M9.10,-109.05h1.1M12.40,-109.05h1.1M15.70,-109.05h1.1M2.50,-112.35h1.1M5.80,-112.35h1.1M9.10,-112.35h1.1M12.40,-112.35h1.1M15.70,-112.35h1.1M2.50,-115.65h1.1M5.80,-115.65h1.1M9.10,-115.65h1.1M12.40,-115.65h1.1M15.70,-115.65h1.1M2.50,-118.95h1.1M5.80,-118.95h1.1M9.10,-118.95h1.1M12.40,-118.95h1.1M15.70,-118.95h1.1M2.50,-122.25h1.1M5.80,-122.25h1.1M9.10,-122.25h1.1M12.40,-122.25h1.1M15.70,-122.25h1.1M2.50,-125.55h1.1M5.80,-125.55h1.1M9.10,-125.55h1.1M12.40,-125.55h1.1M15.70,-125.55h1.1M2.50,-128.85h1.1M5.80,-128.85h1.1M9.10,-128.85h1.1M12.40,-128.85h1.1M15.70,-128.85h1.1M2.50,-132.15h1.1M5.80,-132.15h1.1M9.10,-132.15h1.1M12.40,-132.15h1.1M15.70,-132.15h1.1M2.50,-135.45h1.1M5.80,-135.45h1.1M9.10,-135.45h1.1M12.40,-135.45h1.1M15.70,-135.45h1.1M2.50,-138.75h1.1M5.80,-138.75h1.1M9.10,-138.75h1.1M12.40,-138.75h1.1M15.70,-138.75h1.1M2.50,-142.05h1.1M5.80,-142.05h1.1M9.10,-142.05h1.1M12.40,-142.05h1.1M15.70,-142.05h1.1M2.50,-145.35h1.1M5.80,-145.35h1.1M9.10,-145.35h1.1M12.40,-145.35h1.1M15.70,-145.35h1.1M2.50,-148.65h1.1M5.80,-148.65h1.1M9.10,-148.65h1.1M12.40,-148.65h1.1M15.70,-148.65h1.1M2.50,-151.95h1.1M5.80,-151.95h1.1M9.10,-151.95h1.1M12.40,-151.95h1.1M15.70,-151.95h1.1M2.50,-155.25h1.1M5.80,-155.25h1.1M9.10,-155.25h1.1M12.40,-155.25h1.1M15.70,-155.25h1.1M2.50,-158.55h1.1M5.80,-158.55h1.1M9.10,-158.55h1.1M12.40,-158.55h1.1M15.70,-158.55h1.1M2.50,-161.85h1.1M5.80,-161.85h1.1M9.10,-161.85h1.1M12.40,-161.85h1.1M15.70,-161.85h1.1M2.50,-165.15h1.1M5.80,-165.15h1.1M9.10,-165.15h1.1M12.40,-165.15h1.1M15.70,-165.15h1.1M2.50,-168.45h1.1M5.80,-168.45h1.1M9.10,-168.45h1.1M12.40,-168.45h1.1M15.70,-168.45h1.1M2.50,-171.75h1.1M5.80,-171.75h1.1M9.10,-171.75h1.1M12.40,-171.75h1.1M15.70,-171.75h1.1M2.50,-175.05h1.1M5.80,-175.05h1.1M9.10,-175.05h1.1M12.40,-175.05h1.1M15.70,-175.05h1.1M2.50,-178.35h1.1M5.80,-178.35h1.1M9.10,-178.35h1.1M12.40,-178.35h1.1M15.70,-178.35h1.1M2.50,-181.65h1.1M5.80,-181.65h1.1M9.10,-181.65h1.1M12.40,-181.65h1.1M15.70,-181.65h1.1M2.50,-184.95h1.1M5.80,-184.95h1.1M9.10,-184.95h1.1M12.40,-184.95h1.1M15.70,-184.95h1.1M2.50,-188.25h1.1M5.80,-188.25h1.1M9.10,-188.25h1.1M12.40,-188.25h1.1M15.70,-188.25h1.1M2.50,-191.55h1.1M5.80,-191.55h1.1M9.10,-191.55h1.1M12.40,-191.55h1.1M15.70,-191.55h1.1" stroke="#fff" stroke-opacity="0.85" stroke-width="1.1" fill="none"/></g></svg>
<rect x="463.00" y="277.85" width="15.25" height="188.50" fill="none" stroke="#000" stroke-width="2.5"/>
<path d="M493.89,197.10 V138.70 M489.44,138.70 H498.34" stroke="#000" stroke-width="1.5" fill="none"/>
<svg x="486.01" y="197.10" width="15.75" height="269.25" viewBox="1 -269.25 15.75 269.25" overflow="hidden"><g><rect x="0" y="-271.25" width="17.75" height="272.25" fill="#f2f2f2"/><path d="M-1.19,7.64l2.48,-2.60M-1.19,3.27l2.48,-2.60M-1.19,-1.10l2.48,-2.60M-1.19,-5.47l2.48,-2.60M-1.19,-9.84l2.48,-2.60M-1.19,-14.21l2.48,-2.60M-1.19,-18.58l2.48,-2.60M-1.19,-22.95l2.48,-2.60M-1.19,-27.32l2.48,-2.60M-1.19,-31.69l2.48,-2.60M-1.19,-36.06l2.48,-2.60M-1.19,-40.43l2.48,-2.60M-1.19,-44.80l2.48,-2.60M-1.19,-49.17l2.48,-2.60M-1.19,-53.54l2.48,-2.60M-1.19,-57.91l2.48,-2.60M-1.19,-62.28l2.48,-2.60M-1.19,-66.65l2.48,-2.60M-1.19,-71.02l2.48,-2.60M-1.19,-75.39l2.48,-2.60M-1.19,-79.76l2.48,-2.60M-1.19,-84.13l2.48,-2.60M-1.19,-88.50l2.48,-2.60M-1.19,-92.87l2.48,-2.60M-1.19,-97.24l2.48,-2.60M-1.19,-101.61l2.48,-2.60M-1.19,-105.98l2.48,-2.60M-1.19,-110.35l2.48,-2.60M-1.19,-114.72l2.48,-2.60M-1.19,-119.09l2.48,-2.60M-1.19,-123.46l2.48,-2.60M-1.19,-127.83l2.48,-2.60M-1.19,-132.20l2.48,-2.60M-1.19,-136.57l2.48,-2.60M-1.19,-140.94l2.48,-2.60M-1.19,-145.31l2.48,-2.60M-1.19,-149.68l2.48,-2.60M-1.19,-154.05l2.48,-2.60M-1.19,-158.42l2.48,-2.60M-1.19,-162.79l2.48,-2.60M-1.19,-167.16l2.48,-2.60M-1.19,-171.53l2.48,-2.60M-1.19,-175.90l2.48,-2.60M-1.19,-180.27l2.48,-2.60M-1.19,-184.64l2.48,-2.60M-1.19,-189.01l2.48,-2.60M-1.19,-193.38l2.48,-2.60M-1.19,-197.75l2.48,-2.60M-1.19,-202.12l2.48,-2.60M-1.19,-206.49l2.48,-2.60M-1.19,-210.86l2.48,-2.60M-1.19,-215.23l2.48,-2.60M-1.19,-219.60l2.48,-2.60M-1.19,-223.97l2.48,-2.60M-1.19,-228.34l2.48,-2.60M-1.19,-232.71l2.48,-2.60M-1.19,-237.08l2.48,-2.60M-1.19,-241.45l2.48,-2.60M-1.19,-245.82l2.48,-2.60M-1.19,-250.19l2.48,-2.60M-1.19,-254.56l2.48,-2.60M-1.19,-258.93l2.48,-2.60M-1.19,-263.30l2.48,-2.60M-1.19,-267.67l2.48,-2.60M-1.19,-272.04l2.48,-2.60M3.26,7.34l2.48,-2.60M3.26,2.97l2.48,-2.60M3.26,-1.40l2.48,-2.60M3.26,-5.77l2.48,-2.60M3.26,-10.14l2.48,-2.60M3.26,-14.51l2.48,-2.60M3.26,-18.88l2.48,-2.60M3.26,-23.25l2.48,-2.60M3.26,-27.62l2.48,-2.60M3.26,-31.99l2.48,-2.60M3.26,-36.36l2.48,-2.60M3.26,-40.73l2.48,-2.60M3.26,-45.10l2.48,-2.60M3.26,-49.47l2.48,-2.60M3.26,-53.84l2.48,-2.60M3.26,-58.21l2.48,-2.60M3.26,-62.58l2.48,-2.60M3.26,-66.95l2.48,-2.60M3.26,-71.32l2.48,-2.60M3.26,-75.69l2.48,-2.60M3.26,-80.06l2.48,-2.60M3.26,-84.43l2.48,-2.60M3.26,-88.80l2.48,-2.60M3.26,-93.17l2.48,-2.60M3.26,-97.54l2.48,-2.60M3.26,-101.91l2.48,-2.60M3.26,-106.28l2.48,-2.60M3.26,-110.65l2.48,-2.60M3.26,-115.02l2.48,-2.60M3.26,-119.39l2.48,-2.60M3.26,-123.76l2.48,-2.60M3.26,-128.13l2.48,-2.60M3.26,-132.50l2.48,-2.60M3.26,-136.87l2.48,-2.60M3.26,-141.24l2.48,-2.60M3.26,-145.61l2.48,-2.60M3.26,-149.98l2.48,-2.60M3.26,-154.35l2.48,-2.60M3.26,-158.72l2.48,-2.60M3.26,-163.09l2.48,-2.60M3.26,-167.46l2.48,-2.60M3.26,-171.83l2.48,-2.60M3.26,-176.20l2.48,-2.60M3.26,-180.57l2.48,-2.60M3.26,-184.94l2.48,-2.60M3.26,-189.31l2.48,-2.60M3.26,-193.68l2.48,-2.60M3.26,-198.05l2.48,-2.60M3.26,-202.42l2.48,-2.60M3.26,-206.79l2.48,-2.60M3.26,-211.16l2.48,-2.60M3.26,-215.53l2.48,-2.60M3.26,-219.90l2.48,-2.60M3.26,-224.27l2.48,-2.60M3.26,-228.64l2.48,-2.60M3.26,-233.01l2.48,-2.60M3.26,-237.38l2.48,-2.60M3.26,-241.75l2.48,-2.60M3.26,-246.12l2.48,-2.60M3.26,-250.49l2.48,-2.60M3.26,-254.86l2.48,-2.60M3.26,-259.23l2.48,-2.60M3.26,-263.60l2.48,-2.60M3.26,-267.97l2.48,-2.60M3.26,-272.34l2.48,-2.60M7.71,7.04l2.48,-2.60M7.71,2.67l2.48,-2.60M7.71,-1.70l2.48,-2.60M7.71,-6.07l2.48,-2.60M7.71,-10.44l2.48,-2.60M7.71,-14.81l2.48,-2.60M7.71,-19.18l2.48,-2.60M7.71,-23.55l2.48,-2.60M7.71,-27.92l2.48,-2.60M7.71,-32.29l2.48,-2.60M7.71,-36.66l2.48,-2.60M7.71,-41.03l2.48,-2.60M7.71,-45.40l2.48,-2.60M7.71,-49.77l2.48,-2.60M7.71,-54.14l2.48,-2.60M7.71,-58.51l2.48,-2.60M7.71,-62.88l2.48,-2.60M7.71,-67.25l2.48,-2.60M7.71,-71.62l2.48,-2.60M7.71,-75.99l2.48,-2.60M7.71,-80.36l2.48,-2.60M7.71,-84.73l2.48,-2.60M7.71,-89.10l2.48,-2.60M7.71,-93.47l2.48,-2.60M7.71,-97.84l2.48,-2.60M7.71,-102.21l2.48,-2.60M7.71,-106.58l2.48,-2.60M7.71,-110.95l2.48,-2.60M7.71,-115.32l2.48,-2.60M7.71,-119.69l2.48,-2.60M7.71,-124.06l2.48,-2.60M7.71,-128.43l2.48,-2.60M7.71,-132.80l2.48,-2.60M7.71,-137.17l2.48,-2.60M7.71,-141.54l2.48,-2.60M7.71,-145.91l2.48,-2.60M7.71,-150.28l2.48,-2.60M7.71,-154.65l2.48,-2.60M7.71,-159.02l2.48,-2.60M7.71,-163.39l2.48,-2.60M7.71,-167.76l2.48,-2.60M7.71,-172.13l2.48,-2.60M7.71,-176.50l2.48,-2.60M7.71,-180.87l2.48,-2.60M7.71,-185.24l2.48,-2.60M7.71,-189.61l2.48,-2.60M7.71,-193.98l2.48,-2.60M7.71,-198.35l2.48,-2.60M7.71,-202.72l2.48,-2.60M7.71,-207.09l2.48,-2.60M7.71,-211.46l2.48,-2.60M7.71,-215.83l2.48,-2.60M7.71,-220.20l2.48,-2.60M7.71,-224.57l2.48,-2.60M7.71,-228.94l2.48,-2.60M7.71,-233.31l2.48,-2.60M7.71,-237.68l2.48,-2.60M7.71,-242.05l2.48,-2.60M7.71,-246.42l2.48,-2.60M7.71,-250.79l2.48,-2.60M7.71,-255.16l2.48,-2.60M7.71,-259.53l2.48,-2.60M7.71,-263.90l2.48,-2.60M7.71,-268.27l2.48,-2.60M7.71,-272.64l2.48,-2.60M12.16,6.74l2.48,-2.60M12.16,2.37l2.48,-2.60M12.16,-2.00l2.48,-2.60M12.16,-6.37l2.48,-2.60M12.16,-10.74l2.48,-2.60M12.16,-15.11l2.48,-2.60M12.16,-19.48l2.48,-2.60M12.16,-23.85l2.48,-2.60M12.16,-28.22l2.48,-2.60M12.16,-32.59l2.48,-2.60M12.16,-36.96l2.48,-2.60M12.16,-41.33l2.48,-2.60M12.16,-45.70l2.48,-2.60M12.16,-50.07l2.48,-2.60M12.16,-54.44l2.48,-2.60M12.16,-58.81l2.48,-2.60M12.16,-63.18l2.48,-2.60M12.16,-67.55l2.48,-2.60M12.16,-71.92l2.48,-2.60M12.16,-76.29l2.48,-2.60M12.16,-80.66l2.48,-2.60M12.16,-85.03l2.48,-2.60M12.16,-89.40l2.48,-2.60M12.16,-93.77l2.48,-2.60M12.16,-98.14l2.48,-2.60M12.16,-102.51l2.48,-2.60M12.16,-106.88l2.48,-2.60M12.16,-111.25l2.48,-2.60M12.16,-115.62l2.48,-2.60M12.16,-119.99l2.48,-2.60M12.16,-124.36l2.48,-2.60M12.16,-128.73l2.48,-2.60M12.16,-133.10l2.48,-2.60M12.16,-137.47l2.48,-2.60M12.16,-141.84l2.48,-2.60M12.16,-146.21l2.48,-2.60M12.16,-150.58l2.48,-2.60M12.16,-154.95l2.48,-2.60M12.16,-159.32l2.48,-2.60M12.16,-163.69l2.48,-2.60M12.16,-168.06l2.48,-2.60M12.16,-172.43l2.48,-2.60M12.16,-176.80l2.48,-2.60M12.16,-181.17l2.48,-2.60M12.16,-185.54l2.48,-2.60M12.16,-189.91l2.48,-2.60M12.16,-194.28l2.48,-2.60M12.16,-198.65l2.48,-2.60M12.16,-203.02l2.48,-2.60M12.16,-207.39l2.48,-2.60M12.16,-211.76l2.48,-2.60M12.16,-216.13l2.48,-2.60M12.16,-220.50l2.48,-2.60M12.16,-224.87l2.48,-2.60M12.16,-229.24l2.48,-2.60M12.16,-233.61l2.48,-2.60M12.16,-237.98l2.48,-2.60M12.16,-242.35l2.48,-2.60M12.16,-246.72l2.48,-2.60M12.16,-251.09l2.48,-2.60M12.16,-255.46l2.48,-2.60M12.16,-259.83l2.48,-2.60M12.16,-264.20l2.48,-2.60M12.16,-268.57l2.48,-2.60M12.16,-272.94l2.48,-2.60M16.61,6.44l2.48,-2.60M16.61,2.07l2.48,-2.60M16.61,-2.30l2.48,-2.60M16.61,-6.67l2.48,-2.60M16.61,-11.04l2.48,-2.60M16.61,-15.41l2.48,-2.60M16.61,-19.78l2.48,-2.60M16.61,-24.15l2.48,-2.60M16.61,-28.52l2.48,-2.60M16.61,-32.89l2.48,-2.60M16.61,-37.26l2.48,-2.60M16.61,-41.63l2.48,-2.60M16.61,-46.00l2.48,-2.60M16.61,-50.37l2.48,-2.60M16.61,-54.74l2.48,-2.60M16.61,-59.11l2.48,-2.60M16.61,-63.48l2.48,-2.60M16.61,-67.85l2.48,-2.60M16.61,-72.22l2.48,-2.60M16.61,-76.59l2.48,-2.60M16.61,-80.96l2.48,-2.60M16.61,-85.33l2.48,-2.60M16.61,-89.70l2.48,-2.60M16.61,-94.07l2.48,-2.60M16.61,-98.44l2.48,-2.60M16.61,-102.81l2.48,-2.60M16.61,-107.18l2.48,-2.60M16.61,-111.55l2.48,-2.60M16.61,-115.92l2.48,-2.60M16.61,-120.29l2.48,-2.60M16.61,-124.66l2.48,-2.60M16.61,-129.03l2.48,-2.60M16.61,-133.40l2.48,-2.60M16.61,-137.77l2.48,-2.60M16.61,-142.14l2.48,-2.60M16.61,-146.51l2.48,-2.60M16.61,-150.88l2.48,-2.60M16.61,-155.25l2.48,-2.60M16.61,-159.62l2.48,-2.60M16.61,-163.99l2.48,-2.60M16.61,-168.36l2.48,-2.60M16.61,-172.73l2.48,-2.60M16.61,-177.10l2.48,-2.60M16.61,-181.47l2.48,-2.60M16.61,-185.84l2.48,-2.60M16.61,-190.21l2.48,-2.60M16.61,-194.58l2.48,-2.60M16.61,-198.95l2.48,-2.60M16.61,-203.32l2.48,-2.60M16.61,-207.69l2.48,-2.60M16.61,-212.06l2.48,-2.60M16.61,-216.43l2.48,-2.60M16.61,-220.80l2.48,-2.60M16.61,-225.17l2.48,-2.60M16.61,-229.54l2.48,-2.60M16.61,-233.91l2.48,-2.60M16.61,-238.28l2.48,-2.60M16.61,-242.65l2.48,-2.60M16.61,-247.02l2.48,-2.60M16.61,-251.39l2.48,-2.60M16.61,-255.76l2.48,-2.60M16.61,-260.13l2.48,-2.60M16.61,-264.50l2.48,-2.60M16.61,-268.87l2.48,-2.60M21.06,6.14l2.48,-2.60M21.06,1.77l2.48,-2.60M21.06,-2.60l2.48,-2.60M21.06,-6.97l2.48,-2.60M21.06,-11.34l2.48,-2.60M21.06,-15.71l2.48,-2.60M21.06,-20.08l2.48,-2.60M21.06,-24.45l2.48,-2.60M21.06,-28.82l2.48,-2.60M21.06,-33.19l2.48,-2.60M21.06,-37.56l2.48,-2.60M21.06,-41.93l2.48,-2.60M21.06,-46.30l2.48,-2.60M21.06,-50.67l2.48,-2.60M21.06,-55.04l2.48,-2.60M21.06,-59.41l2.48,-2.60M21.06,-63.78l2.48,-2.60M21.06,-68.15l2.48,-2.60M21.06,-72.52l2.48,-2.60M21.06,-76.89l2.48,-2.60M21.06,-81.26l2.48,-2.60M21.06,-85.63l2.48,-2.60M21.06,-90.00l2.48,-2.60M21.06,-94.37l2.48,-2.60M21.06,-98.74l2.48,-2.60M21.06,-103.11l2.48,-2.60M21.06,-107.48l2.48,-2.60M21.06,-111.85l2.48,-2.60M21.06,-116.22l2.48,-2.60M21.06,-120.59l2.48,-2.60M21.06,-124.96l2.48,-2.60M21.06,-129.33l2.48,-2.60M21.06,-133.70l2.48,-2.60M21.06,-138.07l2.48,-2.60M21.06,-142.44l2.48,-2.60M21.06,-146.81l2.48,-2.60M21.06,-151.18l2.48,-2.60M21.06,-155.55l2.48,-2.60M21.06,-159.92l2.48,-2.60M21.06,-164.29l2.48,-2.60M21.06,-168.66l2.48,-2.60M21.06,-173.03l2.48,-2.60M21.06,-177.40l2.48,-2.60M21.06,-181.77l2.48,-2.60M21.06,-186.14l2.48,-2.60M21.06,-190.51l2.48,-2.60M21.06,-194.88l2.48,-2.60M21.06,-199.25l2.48,-2.60M21.06,-203.62l2.48,-2.60M21.06,-207.99l2.48,-2.60M21.06,-212.36l2.48,-2.60M21.06,-216.73l2.48,-2.60M21.06,-221.10l2.48,-2.60M21.06,-225.47l2.48,-2.60M21.06,-229.84l2.48,-2.60M21.06,-234.21l2.48,-2.60M21.06,-238.58l2.48,-2.60M21.06,-242.95l2.48,-2.60M21.06,-247.32l2.48,-2.60M21.06,-251.69l2.48,-2.60M21.06,-256.06l2.48,-2.60M21.06,-260.43l2.48,-2.60M21.06,-264.80l2.48,-2.60M21.06,-269.17l2.48,-2.60" stroke="#000" stroke-width="2.1" stroke-linecap="round" fill="none"/></g></svg>
<rect x="486.26" y="197.35" width="15.25" height="269.00" fill="none" stroke="#000" stroke-width="2.5"/>
<path d="M319.7,104.15 V467.85" stroke="#000" stroke-width="3.1" fill="none"/>
<path d="M312.10,466.35 H505.7" stroke="#000" stroke-width="3.1" fill="none"/>
<text transform="translate(310.6,471.68) scale(1.0,1)" text-anchor="end" font-size="17.4">0</text>
<path d="M312.30,393.45 H319.7" stroke="#000" stroke-width="3.0" fill="none"/>
<text transform="translate(310.6,399.68) scale(1.0,1)" text-anchor="end" font-size="17.4">2</text>
<path d="M312.30,321.45 H319.7" stroke="#000" stroke-width="3.0" fill="none"/>
<text transform="translate(310.6,327.68) scale(1.0,1)" text-anchor="end" font-size="17.4">4</text>
<path d="M312.30,249.45 H319.7" stroke="#000" stroke-width="3.0" fill="none"/>
<text transform="translate(310.6,255.68) scale(1.0,1)" text-anchor="end" font-size="17.4">6</text>
<path d="M312.30,177.45 H319.7" stroke="#000" stroke-width="3.0" fill="none"/>
<text transform="translate(310.6,183.68) scale(1.0,1)" text-anchor="end" font-size="17.4">8</text>
<path d="M312.30,105.45 H319.7" stroke="#000" stroke-width="3.0" fill="none"/>
<text transform="translate(310.6,111.68) scale(1.0,1)" text-anchor="end" font-size="17.4">10</text>
<path d="M331.00,466.35 V473.15" stroke="#000" stroke-width="3.0" fill="none"/>
<text transform="translate(331.50,492.6) scale(0.94,1)" text-anchor="middle" font-size="13.8">1</text>
<text x="331.50" y="514.20" text-anchor="middle" font-size="14">-</text>
<path d="M354.27,466.35 V473.15" stroke="#000" stroke-width="3.0" fill="none"/>
<text transform="translate(353.00,492.6) scale(0.94,1)" text-anchor="middle" font-size="13.8">2</text>
<text x="354.50" y="514.20" text-anchor="middle" font-size="14">+</text>
<path d="M377.54,466.35 V473.15" stroke="#000" stroke-width="3.0" fill="none"/>
<text transform="translate(376.50,492.6) scale(0.94,1)" text-anchor="middle" font-size="13.8">3</text>
<text x="378.00" y="514.20" text-anchor="middle" font-size="14">-</text>
<path d="M400.81,466.35 V473.15" stroke="#000" stroke-width="3.0" fill="none"/>
<text transform="translate(401.00,492.6) scale(0.94,1)" text-anchor="middle" font-size="13.8">4</text>
<text x="401.00" y="514.20" text-anchor="middle" font-size="14">+</text>
<path d="M424.08,466.35 V473.15" stroke="#000" stroke-width="3.0" fill="none"/>
<text transform="translate(423.00,492.6) scale(0.94,1)" text-anchor="middle" font-size="13.8">5</text>
<text x="423.00" y="514.20" text-anchor="middle" font-size="14">-</text>
<path d="M447.35,466.35 V473.15" stroke="#000" stroke-width="3.0" fill="none"/>
<text transform="translate(445.70,492.6) scale(0.94,1)" text-anchor="middle" font-size="13.8">6</text>
<text x="446.00" y="514.20" text-anchor="middle" font-size="14">+</text>
<path d="M470.62,466.35 V473.15" stroke="#000" stroke-width="3.0" fill="none"/>
<text transform="translate(468.00,492.6) scale(0.94,1)" text-anchor="middle" font-size="13.8">7</text>
<text x="469.00" y="514.20" text-anchor="middle" font-size="14">-</text>
<path d="M493.89,466.35 V473.15" stroke="#000" stroke-width="3.0" fill="none"/>
<text transform="translate(492.00,492.6) scale(0.94,1)" text-anchor="middle" font-size="13.8">8</text>
<text x="493.00" y="514.20" text-anchor="middle" font-size="14">+</text>
<text x="274.6" y="515.0" font-size="14.3">SAHA:</text>
<path d="M330.20,519.80 V523.40 H356.50 V519.80" stroke="#000" stroke-width="2.75" fill="none" stroke-linejoin="miter"/>
<path d="M376.20,519.80 V523.40 H402.30 V519.80" stroke="#000" stroke-width="2.75" fill="none" stroke-linejoin="miter"/>
<path d="M421.20,519.80 V523.40 H447.00 V519.80" stroke="#000" stroke-width="2.75" fill="none" stroke-linejoin="miter"/>
<path d="M469.40,519.80 V523.40 H495.00 V519.80" stroke="#000" stroke-width="2.75" fill="none" stroke-linejoin="miter"/>
<text class="it rot" transform="translate(345.70,538.0) rotate(-90) scale(0.912,1)" text-anchor="end" font-size="17">Wild-type</text>
<text class="it rot" transform="translate(397.00,538.0) rotate(-90) scale(0.885,1)" text-anchor="end" font-size="17">Pten<tspan font-size="11.6" dy="-4.9">+/-</tspan></text>
<text class="it rot" transform="translate(443.20,538.0) rotate(-90) scale(0.89,1)" text-anchor="end" font-size="17">Thrb<tspan font-size="11.6" dy="-4.9">PV/PV</tspan></text>
<text class="it rot" transform="translate(479.00,538.0) rotate(-90) scale(0.89,1)" text-anchor="end" font-size="17">Thrb<tspan font-size="11.6" dy="-4.9">PV/PV</tspan></text>
<text class="it rot" transform="translate(497.50,538.0) rotate(-90) scale(0.885,1)" text-anchor="end" font-size="17">Pten<tspan font-size="11.6" dy="-4.9">+/-</tspan></text>
<text class="it" x="456.20" y="69.4" font-size="13.5">p&lt;0.05</text>
<path d="M466.80,80.80 V76.40 H487.60 V80.80" stroke="#000" stroke-width="2.5" fill="none"/>
<text class="it" x="438.90" y="97.8" font-size="13.5">p&lt;0.01</text>
<path d="M426.60,108.80 V104.40 H491.10 V108.80" stroke="#000" stroke-width="2.5" fill="none"/>
<text class="it" x="389.30" y="122.6" font-size="13.5">p&lt;0.001</text>
<path d="M337.70,133.80 V129.40 H493.80 V133.80" stroke="#000" stroke-width="2.5" fill="none"/>
</g>
<g>
<text transform="translate(539.3,46.75) scale(0.9326,1)" font-size="17.9">c. MMP2</text>
<text transform="translate(552.5,390.30) rotate(-90)" font-size="18.0" textLength="113.30" lengthAdjust="spacingAndGlyphs">Relative band</text>
<text transform="translate(552.5,271.80) rotate(-90)" font-size="18.0" textLength="91.40" lengthAdjust="spacingAndGlyphs">intensities</text>
<path d="M603.80,459.00 V457.75 M599.35,457.75 H608.25" stroke="#000" stroke-width="1.5" fill="none"/>
<svg x="595.92" y="459.00" width="15.75" height="8.10" viewBox="1 -8.10 15.75 8.10" overflow="hidden"><g><rect x="0" y="-10.10" width="17.75" height="11.10" fill="#000"/><path d="M-2.10,-0.62H18.75M-2.10,-3.92H18.75M-2.10,-7.22H18.75M-2.10,-10.52H18.75" stroke="#fff" stroke-width="1.65" stroke-dasharray="1.65 1.65" fill="none"/><path d="M-0.45,-2.27H18.75M-0.45,-5.57H18.75M-0.45,-8.88H18.75" stroke="#fff" stroke-width="1.65" stroke-dasharray="1.65 1.65" fill="none"/></g></svg>
<rect x="596.17" y="459.25" width="15.25" height="7.85" fill="none" stroke="#000" stroke-width="2.5"/>
<path d="M626.80,463.00 V461.85 M622.35,461.85 H631.25" stroke="#000" stroke-width="1.5" fill="none"/>
<svg x="618.92" y="463.00" width="15.75" height="4.10" viewBox="1 -4.10 15.75 4.10" overflow="hidden"><g><rect x="0" y="-6.10" width="17.75" height="7.10" fill="#000"/><path d="M-5.20,-1.95H18.75" stroke="#fff" stroke-width="3.3" stroke-dasharray="3.3 3.3" fill="none"/><path d="M-1.90,-5.25H18.75" stroke="#fff" stroke-width="3.3" stroke-dasharray="3.3 3.3" fill="none"/></g></svg>
<rect x="619.17" y="463.25" width="15.25" height="3.85" fill="none" stroke="#000" stroke-width="2.5"/>
<path d="M649.80,461.70 V460.55 M645.35,460.55 H654.25" stroke="#000" stroke-width="1.5" fill="none"/>
<svg x="641.92" y="461.70" width="15.75" height="5.40" viewBox="1 -5.40 15.75 5.40" overflow="hidden"><g filter="url(#soft)"><rect x="0" y="-7.40" width="17.75" height="8.40" fill="#000"/><path d="M0,-0.90H17.75M0,-4.20H17.75M0,-7.50H17.75" stroke="#f2f2f2" stroke-width="1.3" fill="none"/></g></svg>
<rect x="642.17" y="461.95" width="15.25" height="5.15" fill="none" stroke="#000" stroke-width="2.5"/>
<path d="M672.80,456.00 V455.05 M668.35,455.05 H677.25" stroke="#000" stroke-width="1.5" fill="none"/>
<svg x="664.92" y="456.00" width="15.75" height="11.10" viewBox="1 -11.10 15.75 11.10" overflow="hidden"><g filter="url(#soft)"><rect x="0" y="-13.10" width="17.75" height="14.10" fill="#000"/><path d="M3.00,-13.10V1M6.35,-13.10V1M9.70,-13.10V1M13.05,-13.10V1M16.40,-13.10V1" stroke="#c4c4c4" stroke-width="1.4" fill="none"/></g></svg>
<rect x="665.17" y="456.25" width="15.25" height="10.85" fill="none" stroke="#000" stroke-width="2.5"/>
<path d="M695.80,305.80 V288.00 M691.35,288.00 H700.25" stroke="#000" stroke-width="1.5" fill="none"/>
<svg x="687.92" y="305.80" width="15.75" height="161.30" viewBox="1 -161.30 15.75 161.30" overflow="hidden"><g><rect x="0" y="-163.30" width="17.75" height="164.30" fill="#000"/><path d="M-1,-169.40L18.75,-189.15M-1,-166.10L18.75,-185.85M-1,-162.80L18.75,-182.55M-1,-159.50L18.75,-179.25M-1,-156.20L18.75,-175.95M-1,-152.90L18.75,-172.65M-1,-149.60L18.75,-169.35M-1,-146.30L18.75,-166.05M-1,-143.00L18.75,-162.75M-1,-139.70L18.75,-159.45M-1,-136.40L18.75,-156.15M-1,-133.10L18.75,-152.85M-1,-129.80L18.75,-149.55M-1,-126.50L18.75,-146.25M-1,-123.20L18.75,-142.95M-1,-119.90L18.75,-139.65M-1,-116.60L18.75,-136.35M-1,-113.30L18.75,-133.05M-1,-110.00L18.75,-129.75M-1,-106.70L18.75,-126.45M-1,-103.40L18.75,-123.15M-1,-100.10L18.75,-119.85M-1,-96.80L18.75,-116.55M-1,-93.50L18.75,-113.25M-1,-90.20L18.75,-109.95M-1,-86.90L18.75,-106.65M-1,-83.60L18.75,-103.35M-1,-80.30L18.75,-100.05M-1,-77.00L18.75,-96.75M-1,-73.70L18.75,-93.45M-1,-70.40L18.75,-90.15M-1,-67.10L18.75,-86.85M-1,-63.80L18.75,-83.55M-1,-60.50L18.75,-80.25M-1,-57.20L18.75,-76.95M-1,-53.90L18.75,-73.65M-1,-50.60L18.75,-70.35M-1,-47.30L18.75,-67.05M-1,-44.00L18.75,-63.75M-1,-40.70L18.75,-60.45M-1,-37.40L18.75,-57.15M-1,-34.10L18.75,-53.85M-1,-30.80L18.75,-50.55M-1,-27.50L18.75,-47.25M-1,-24.20L18.75,-43.95M-1,-20.90L18.75,-40.65M-1,-17.60L18.75,-37.35M-1,-14.30L18.75,-34.05M-1,-11.00L18.75,-30.75M-1,-7.70L18.75,-27.45M-1,-4.40L18.75,-24.15M-1,-1.10L18.75,-20.85M-1,2.20L18.75,-17.55M-1,5.50L18.75,-14.25M-1,8.80L18.75,-10.95M-1,12.10L18.75,-7.65M-1,15.40L18.75,-4.35M-1,18.70L18.75,-1.05" stroke="#fff" stroke-width="1.12" fill="none"/></g></svg>
<rect x="688.17" y="306.05" width="15.25" height="161.05" fill="none" stroke="#000" stroke-width="2.5"/>
<path d="M718.80,325.60 V292.50 M714.35,292.50 H723.25" stroke="#000" stroke-width="1.5" fill="none"/>
<svg x="710.92" y="325.60" width="15.75" height="141.50" viewBox="1 -141.50 15.75 141.50" overflow="hidden"><g><rect x="0" y="-143.50" width="17.75" height="144.50" fill="#000"/><path d="M-1,1.10L18.75,20.85M-1,-2.20L18.75,17.55M-1,-5.50L18.75,14.25M-1,-8.80L18.75,10.95M-1,-12.10L18.75,7.65M-1,-15.40L18.75,4.35M-1,-18.70L18.75,1.05M-1,-22.00L18.75,-2.25M-1,-25.30L18.75,-5.55M-1,-28.60L18.75,-8.85M-1,-31.90L18.75,-12.15M-1,-35.20L18.75,-15.45M-1,-38.50L18.75,-18.75M-1,-41.80L18.75,-22.05M-1,-45.10L18.75,-25.35M-1,-48.40L18.75,-28.65M-1,-51.70L18.75,-31.95M-1,-55.00L18.75,-35.25M-1,-58.30L18.75,-38.55M-1,-61.60L18.75,-41.85M-1,-64.90L18.75,-45.15M-1,-68.20L18.75,-48.45M-1,-71.50L18.75,-51.75M-1,-74.80L18.75,-55.05M-1,-78.10L18.75,-58.35M-1,-81.40L18.75,-61.65M-1,-84.70L18.75,-64.95M-1,-88.00L18.75,-68.25M-1,-91.30L18.75,-71.55M-1,-94.60L18.75,-74.85M-1,-97.90L18.75,-78.15M-1,-101.20L18.75,-81.45M-1,-104.50L18.75,-84.75M-1,-107.80L18.75,-88.05M-1,-111.10L18.75,-91.35M-1,-114.40L18.75,-94.65M-1,-117.70L18.75,-97.95M-1,-121.00L18.75,-101.25M-1,-124.30L18.75,-104.55M-1,-127.60L18.75,-107.85M-1,-130.90L18.75,-111.15M-1,-134.20L18.75,-114.45M-1,-137.50L18.75,-117.75M-1,-140.80L18.75,-121.05M-1,-144.10L18.75,-124.35M-1,-147.40L18.75,-127.65M-1,-150.70L18.75,-130.95M-1,-154.00L18.75,-134.25M-1,-157.30L18.75,-137.55M-1,-160.60L18.75,-140.85M-1,-163.90L18.75,-144.15M-1,-167.20L18.75,-147.45" stroke="#fff" stroke-width="1.12" fill="none"/></g></svg>
<rect x="711.17" y="325.85" width="15.25" height="141.25" fill="none" stroke="#000" stroke-width="2.5"/>
<path d="M741.80,297.10 V288.20 M737.35,288.20 H746.25" stroke="#000" stroke-width="1.5" fill="none"/>
<svg x="733.92" y="297.10" width="15.75" height="170.00" viewBox="1 -170.00 15.75 170.00" overflow="hidden"><g><rect x="0" y="-172.00" width="17.75" height="173.00" fill="#000"/><path d="M3.05,-172.00V1M6.35,-172.00V1M9.65,-172.00V1M12.95,-172.00V1M16.25,-172.00V1" stroke="#fff" stroke-opacity="0.6" stroke-width="1.6" fill="none"/><path d="M0,-0.15H17.75M0,-3.45H17.75M0,-6.75H17.75M0,-10.05H17.75M0,-13.35H17.75M0,-16.65H17.75M0,-19.95H17.75M0,-23.25H17.75M0,-26.55H17.75M0,-29.85H17.75M0,-33.15H17.75M0,-36.45H17.75M0,-39.75H17.75M0,-43.05H17.75M0,-46.35H17.75M0,-49.65H17.75M0,-52.95H17.75M0,-56.25H17.75M0,-59.55H17.75M0,-62.85H17.75M0,-66.15H17.75M0,-69.45H17.75M0,-72.75H17.75M0,-76.05H17.75M0,-79.35H17.75M0,-82.65H17.75M0,-85.95H17.75M0,-89.25H17.75M0,-92.55H17.75M0,-95.85H17.75M0,-99.15H17.75M0,-102.45H17.75M0,-105.75H17.75M0,-109.05H17.75M0,-112.35H17.75M0,-115.65H17.75M0,-118.95H17.75M0,-122.25H17.75M0,-125.55H17.75M0,-128.85H17.75M0,-132.15H17.75M0,-135.45H17.75M0,-138.75H17.75M0,-142.05H17.75M0,-145.35H17.75M0,-148.65H17.75M0,-151.95H17.75M0,-155.25H17.75M0,-158.55H17.75M0,-161.85H17.75M0,-165.15H17.75M0,-168.45H17.75M0,-171.75H17.75" stroke="#fff" stroke-opacity="0.6" stroke-width="1.6" fill="none"/><path d="M2.50,-0.15h1.1M5.80,-0.15h1.1M9.10,-0.15h1.1M12.40,-0.15h1.1M15.70,-0.15h1.1M2.50,-3.45h1.1M5.80,-3.45h1.1M9.10,-3.45h1.1M12.40,-3.45h1.1M15.70,-3.45h1.1M2.50,-6.75h1.1M5.80,-6.75h1.1M9.10,-6.75h1.1M12.40,-6.75h1.1M15.70,-6.75h1.1M2.50,-10.05h1.1M5.80,-10.05h1.1M9.10,-10.05h1.1M12.40,-10.05h1.1M15.70,-10.05h1.1M2.50,-13.35h1.1M5.80,-13.35h1.1M9.10,-13.35h1.1M12.40,-13.35h1.1M15.70,-13.35h1.1M2.50,-16.65h1.1M5.80,-16.65h1.1M9.10,-16.65h1.1M12.40,-16.65h1.1M15.70,-16.65h1.1M2.50,-19.95h1.1M5.80,-19.95h1.1M9.10,-19.95h1.1M12.40,-19.95h1.1M15.70,-19.95h1.1M2.50,-23.25h1.1M5.80,-23.25h1.1M9.10,-23.25h1.1M12.40,-23.25h1.1M15.70,-23.25h1.1M2.50,-26.55h1.1M5.80,-26.55h1.1M9.10,-26.55h1.1M12.40,-26.55h1.1M15.70,-26.55h1.1M2.50,-29.85h1.1M5.80,-29.85h1.1M9.10,-29.85h1.1M12.40,-29.85h1.1M15.70,-29.85h1.1M2.50,-33.15h1.1M5.80,-33.15h1.1M9.10,-33.15h1.1M12.40,-33.15h1.1M15.70,-33.15h1.1M2.50,-36.45h1.1M5.80,-36.45h1.1M9.10,-36.45h1.1M12.40,-36.45h1.1M15.70,-36.45h1.1M2.50,-39.75h1.1M5.80,-39.75h1.1M9.10,-39.75h1.1M12.40,-39.75h1.1M15.70,-39.75h1.1M2.50,-43.05h1.1M5.80,-43.05h1.1M9.10,-43.05h1.1M12.40,-43.05h1.1M15.70,-43.05h1.1M2.50,-46.35h1.1M5.80,-46.35h1.1M9.10,-46.35h1.1M12.40,-46.35h1.1M15.70,-46.35h1.1M2.50,-49.65h1.1M5.80,-49.65h1.1M9.10,-49.65h1.1M12.40,-49.65h1.1M15.70,-49.65h1.1M2.50,-52.95h1.1M5.80,-52.95h1.1M9.10,-52.95h1.1M12.40,-52.95h1.1M15.70,-52.95h1.1M2.50,-56.25h1.1M5.80,-56.25h1.1M9.10,-56.25h1.1M12.40,-56.25h1.1M15.70,-56.25h1.1M2.50,-59.55h1.1M5.80,-59.55h1.1M9.10,-59.55h1.1M12.40,-59.55h1.1M15.70,-59.55h1.1M2.50,-62.85h1.1M5.80,-62.85h1.1M9.10,-62.85h1.1M12.40,-62.85h1.1M15.70,-62.85h1.1M2.50,-66.15h1.1M5.80,-66.15h1.1M9.10,-66.15h1.1M12.40,-66.15h1.1M15.70,-66.15h1.1M2.50,-69.45h1.1M5.80,-69.45h1.1M9.10,-69.45h1.1M12.40,-69.45h1.1M15.70,-69.45h1.1M2.50,-72.75h1.1M5.80,-72.75h1.1M9.10,-72.75h1.1M12.40,-72.75h1.1M15.70,-72.75h1.1M2.50,-76.05h1.1M5.80,-76.05h1.1M9.10,-76.05h1.1M12.40,-76.05h1.1M15.70,-76.05h1.1M2.50,-79.35h1.1M5.80,-79.35h1.1M9.10,-79.35h1.1M12.40,-79.35h1.1M15.70,-79.35h1.1M2.50,-82.65h1.1M5.80,-82.65h1.1M9.10,-82.65h1.1M12.40,-82.65h1.1M15.70,-82.65h1.1M2.50,-85.95h1.1M5.80,-85.95h1.1M9.10,-85.95h1.1M12.40,-85.95h1.1M15.70,-85.95h1.1M2.50,-89.25h1.1M5.80,-89.25h1.1M9.10,-89.25h1.1M12.40,-89.25h1.1M15.70,-89.25h1.1M2.50,-92.55h1.1M5.80,-92.55h1.1M9.10,-92.55h1.1M12.40,-92.55h1.1M15.70,-92.55h1.1M2.50,-95.85h1.1M5.80,-95.85h1.1M9.10,-95.85h1.1M12.40,-95.85h1.1M15.70,-95.85h1.1M2.50,-99.15h1.1M5.80,-99.15h1.1M9.10,-99.15h1.1M12.40,-99.15h1.1M15.70,-99.15h1.1M2.50,-102.45h1.1M5.80,-102.45h1.1M9.10,-102.45h1.1M12.40,-102.45h1.1M15.70,-102.45h1.1M2.50,-105.75h1.1M5.80,-105.75h1.1M9.10,-105.75h1.1M12.40,-105.75h1.1M15.70,-105.75h1.1M2.50,-109.05h1.1M5.80,-109.05h1.1M9.10,-109.05h1.1M12.40,-109.05h1.1M15.70,-109.05h1.1M2.50,-112.35h1.1M5.80,-112.35h1.1M9.10,-112.35h1.1M12.40,-112.35h1.1M15.70,-112.35h1.1M2.50,-115.65h1.1M5.80,-115.65h1.1M9.10,-115.65h1.1M12.40,-115.65h1.1M15.70,-115.65h1.1M2.50,-118.95h1.1M5.80,-118.95h1.1M9.10,-118.95h1.1M12.40,-118.95h1.1M15.70,-118.95h1.1M2.50,-122.25h1.1M5.80,-122.25h1.1M9.10,-122.25h1.1M12.40,-122.25h1.1M15.70,-122.25h1.1M2.50,-125.55h1.1M5.80,-125.55h1.1M9.10,-125.55h1.1M12.40,-125.55h1.1M15.70,-125.55h1.1M2.50,-128.85h1.1M5.80,-128.85h1.1M9.10,-128.85h1.1M12.40,-128.85h1.1M15.70,-128.85h1.1M2.50,-132.15h1.1M5.80,-132.15h1.1M9.10,-132.15h1.1M12.40,-132.15h1.1M15.70,-132.15h1.1M2.50,-135.45h1.1M5.80,-135.45h1.1M9.10,-135.45h1.1M12.40,-135.45h1.1M15.70,-135.45h1.1M2.50,-138.75h1.1M5.80,-138.75h1.1M9.10,-138.75h1.1M12.40,-138.75h1.1M15.70,-138.75h1.1M2.50,-142.05h1.1M5.80,-142.05h1.1M9.10,-142.05h1.1M12.40,-142.05h1.1M15.70,-142.05h1.1M2.50,-145.35h1.1M5.80,-145.35h1.1M9.10,-145.35h1.1M12.40,-145.35h1.1M15.70,-145.35h1.1M2.50,-148.65h1.1M5.80,-148.65h1.1M9.10,-148.65h1.1M12.40,-148.65h1.1M15.70,-148.65h1.1M2.50,-151.95h1.1M5.80,-151.95h1.1M9.10,-151.95h1.1M12.40,-151.95h1.1M15.70,-151.95h1.1M2.50,-155.25h1.1M5.80,-155.25h1.1M9.10,-155.25h1.1M12.40,-155.25h1.1M15.70,-155.25h1.1M2.50,-158.55h1.1M5.80,-158.55h1.1M9.10,-158.55h1.1M12.40,-158.55h1.1M15.70,-158.55h1.1M2.50,-161.85h1.1M5.80,-161.85h1.1M9.10,-161.85h1.1M12.40,-161.85h1.1M15.70,-161.85h1.1M2.50,-165.15h1.1M5.80,-165.15h1.1M9.10,-165.15h1.1M12.40,-165.15h1.1M15.70,-165.15h1.1M2.50,-168.45h1.1M5.80,-168.45h1.1M9.10,-168.45h1.1M12.40,-168.45h1.1M15.70,-168.45h1.1M2.50,-171.75h1.1M5.80,-171.75h1.1M9.10,-171.75h1.1M12.40,-171.75h1.1M15.70,-171.75h1.1" stroke="#fff" stroke-opacity="0.85" stroke-width="1.1" fill="none"/></g></svg>
<rect x="734.17" y="297.35" width="15.25" height="169.75" fill="none" stroke="#000" stroke-width="2.5"/>
<path d="M764.80,143.30 V130.50 M760.35,130.50 H769.25" stroke="#000" stroke-width="1.5" fill="none"/>
<svg x="756.92" y="143.30" width="15.75" height="323.80" viewBox="1 -323.80 15.75 323.80" overflow="hidden"><g><rect x="0" y="-325.80" width="17.75" height="326.80" fill="#f2f2f2"/><path d="M-1.19,7.64l2.48,-2.60M-1.19,3.27l2.48,-2.60M-1.19,-1.10l2.48,-2.60M-1.19,-5.47l2.48,-2.60M-1.19,-9.84l2.48,-2.60M-1.19,-14.21l2.48,-2.60M-1.19,-18.58l2.48,-2.60M-1.19,-22.95l2.48,-2.60M-1.19,-27.32l2.48,-2.60M-1.19,-31.69l2.48,-2.60M-1.19,-36.06l2.48,-2.60M-1.19,-40.43l2.48,-2.60M-1.19,-44.80l2.48,-2.60M-1.19,-49.17l2.48,-2.60M-1.19,-53.54l2.48,-2.60M-1.19,-57.91l2.48,-2.60M-1.19,-62.28l2.48,-2.60M-1.19,-66.65l2.48,-2.60M-1.19,-71.02l2.48,-2.60M-1.19,-75.39l2.48,-2.60M-1.19,-79.76l2.48,-2.60M-1.19,-84.13l2.48,-2.60M-1.19,-88.50l2.48,-2.60M-1.19,-92.87l2.48,-2.60M-1.19,-97.24l2.48,-2.60M-1.19,-101.61l2.48,-2.60M-1.19,-105.98l2.48,-2.60M-1.19,-110.35l2.48,-2.60M-1.19,-114.72l2.48,-2.60M-1.19,-119.09l2.48,-2.60M-1.19,-123.46l2.48,-2.60M-1.19,-127.83l2.48,-2.60M-1.19,-132.20l2.48,-2.60M-1.19,-136.57l2.48,-2.60M-1.19,-140.94l2.48,-2.60M-1.19,-145.31l2.48,-2.60M-1.19,-149.68l2.48,-2.60M-1.19,-154.05l2.48,-2.60M-1.19,-158.42l2.48,-2.60M-1.19,-162.79l2.48,-2.60M-1.19,-167.16l2.48,-2.60M-1.19,-171.53l2.48,-2.60M-1.19,-175.90l2.48,-2.60M-1.19,-180.27l2.48,-2.60M-1.19,-184.64l2.48,-2.60M-1.19,-189.01l2.48,-2.60M-1.19,-193.38l2.48,-2.60M-1.19,-197.75l2.48,-2.60M-1.19,-202.12l2.48,-2.60M-1.19,-206.49l2.48,-2.60M-1.19,-210.86l2.48,-2.60M-1.19,-215.23l2.48,-2.60M-1.19,-219.60l2.48,-2.60M-1.19,-223.97l2.48,-2.60M-1.19,-228.34l2.48,-2.60M-1.19,-232.71l2.48,-2.60M-1.19,-237.08l2.48,-2.60M-1.19,-241.45l2.48,-2.60M-1.19,-245.82l2.48,-2.60M-1.19,-250.19l2.48,-2.60M-1.19,-254.56l2.48,-2.60M-1.19,-258.93l2.48,-2.60M-1.19,-263.30l2.48,-2.60M-1.19,-267.67l2.48,-2.60M-1.19,-272.04l2.48,-2.60M-1.19,-276.41l2.48,-2.60M-1.19,-280.78l2.48,-2.60M-1.19,-285.15l2.48,-2.60M-1.19,-289.52l2.48,-2.60M-1.19,-293.89l2.48,-2.60M-1.19,-298.26l2.48,-2.60M-1.19,-302.63l2.48,-2.60M-1.19,-307.00l2.48,-2.60M-1.19,-311.37l2.48,-2.60M-1.19,-315.74l2.48,-2.60M-1.19,-320.11l2.48,-2.60M-1.19,-324.48l2.48,-2.60M3.26,7.34l2.48,-2.60M3.26,2.97l2.48,-2.60M3.26,-1.40l2.48,-2.60M3.26,-5.77l2.48,-2.60M3.26,-10.14l2.48,-2.60M3.26,-14.51l2.48,-2.60M3.26,-18.88l2.48,-2.60M3.26,-23.25l2.48,-2.60M3.26,-27.62l2.48,-2.60M3.26,-31.99l2.48,-2.60M3.26,-36.36l2.48,-2.60M3.26,-40.73l2.48,-2.60M3.26,-45.10l2.48,-2.60M3.26,-49.47l2.48,-2.60M3.26,-53.84l2.48,-2.60M3.26,-58.21l2.48,-2.60M3.26,-62.58l2.48,-2.60M3.26,-66.95l2.48,-2.60M3.26,-71.32l2.48,-2.60M3.26,-75.69l2.48,-2.60M3.26,-80.06l2.48,-2.60M3.26,-84.43l2.48,-2.60M3.26,-88.80l2.48,-2.60M3.26,-93.17l2.48,-2.60M3.26,-97.54l2.48,-2.60M3.26,-101.91l2.48,-2.60M3.26,-106.28l2.48,-2.60M3.26,-110.65l2.48,-2.60M3.26,-115.02l2.48,-2.60M3.26,-119.39l2.48,-2.60M3.26,-123.76l2.48,-2.60M3.26,-128.13l2.48,-2.60M3.26,-132.50l2.48,-2.60M3.26,-136.87l2.48,-2.60M3.26,-141.24l2.48,-2.60M3.26,-145.61l2.48,-2.60M3.26,-149.98l2.48,-2.60M3.26,-154.35l2.48,-2.60M3.26,-158.72l2.48,-2.60M3.26,-163.09l2.48,-2.60M3.26,-167.46l2.48,-2.60M3.26,-171.83l2.48,-2.60M3.26,-176.20l2.48,-2.60M3.26,-180.57l2.48,-2.60M3.26,-184.94l2.48,-2.60M3.26,-189.31l2.48,-2.60M3.26,-193.68l2.48,-2.60M3.26,-198.05l2.48,-2.60M3.26,-202.42l2.48,-2.60M3.26,-206.79l2.48,-2.60M3.26,-211.16l2.48,-2.60M3.26,-215.53l2.48,-2.60M3.26,-219.90l2.48,-2.60M3.26,-224.27l2.48,-2.60M3.26,-228.64l2.48,-2.60M3.26,-233.01l2.48,-2.60M3.26,-237.38l2.48,-2.60M3.26,-241.75l2.48,-2.60M3.26,-246.12l2.48,-2.60M3.26,-250.49l2.48,-2.60M3.26,-254.86l2.48,-2.60M3.26,-259.23l2.48,-2.60M3.26,-263.60l2.48,-2.60M3.26,-267.97l2.48,-2.60M3.26,-272.34l2.48,-2.60M3.26,-276.71l2.48,-2.60M3.26,-281.08l2.48,-2.60M3.26,-285.45l2.48,-2.60M3.26,-289.82l2.48,-2.60M3.26,-294.19l2.48,-2.60M3.26,-298.56l2.48,-2.60M3.26,-302.93l2.48,-2.60M3.26,-307.30l2.48,-2.60M3.26,-311.67l2.48,-2.60M3.26,-316.04l2.48,-2.60M3.26,-320.41l2.48,-2.60M3.26,-324.78l2.48,-2.60M7.71,7.04l2.48,-2.60M7.71,2.67l2.48,-2.60M7.71,-1.70l2.48,-2.60M7.71,-6.07l2.48,-2.60M7.71,-10.44l2.48,-2.60M7.71,-14.81l2.48,-2.60M7.71,-19.18l2.48,-2.60M7.71,-23.55l2.48,-2.60M7.71,-27.92l2.48,-2.60M7.71,-32.29l2.48,-2.60M7.71,-36.66l2.48,-2.60M7.71,-41.03l2.48,-2.60M7.71,-45.40l2.48,-2.60M7.71,-49.77l2.48,-2.60M7.71,-54.14l2.48,-2.60M7.71,-58.51l2.48,-2.60M7.71,-62.88l2.48,-2.60M7.71,-67.25l2.48,-2.60M7.71,-71.62l2.48,-2.60M7.71,-75.99l2.48,-2.60M7.71,-80.36l2.48,-2.60M7.71,-84.73l2.48,-2.60M7.71,-89.10l2.48,-2.60M7.71,-93.47l2.48,-2.60M7.71,-97.84l2.48,-2.60M7.71,-102.21l2.48,-2.60M7.71,-106.58l2.48,-2.60M7.71,-110.95l2.48,-2.60M7.71,-115.32l2.48,-2.60M7.71,-119.69l2.48,-2.60M7.71,-124.06l2.48,-2.60M7.71,-128.43l2.48,-2.60M7.71,-132.80l2.48,-2.60M7.71,-137.17l2.48,-2.60M7.71,-141.54l2.48,-2.60M7.71,-145.91l2.48,-2.60M7.71,-150.28l2.48,-2.60M7.71,-154.65l2.48,-2.60M7.71,-159.02l2.48,-2.60M7.71,-163.39l2.48,-2.60M7.71,-167.76l2.48,-2.60M7.71,-172.13l2.48,-2.60M7.71,-176.50l2.48,-2.60M7.71,-180.87l2.48,-2.60M7.71,-185.24l2.48,-2.60M7.71,-189.61l2.48,-2.60M7.71,-193.98l2.48,-2.60M7.71,-198.35l2.48,-2.60M7.71,-202.72l2.48,-2.60M7.71,-207.09l2.48,-2.60M7.71,-211.46l2.48,-2.60M7.71,-215.83l2.48,-2.60M7.71,-220.20l2.48,-2.60M7.71,-224.57l2.48,-2.60M7.71,-228.94l2.48,-2.60M7.71,-233.31l2.48,-2.60M7.71,-237.68l2.48,-2.60M7.71,-242.05l2.48,-2.60M7.71,-246.42l2.48,-2.60M7.71,-250.79l2.48,-2.60M7.71,-255.16l2.48,-2.60M7.71,-259.53l2.48,-2.60M7.71,-263.90l2.48,-2.60M7.71,-268.27l2.48,-2.60M7.71,-272.64l2.48,-2.60M7.71,-277.01l2.48,-2.60M7.71,-281.38l2.48,-2.60M7.71,-285.75l2.48,-2.60M7.71,-290.12l2.48,-2.60M7.71,-294.49l2.48,-2.60M7.71,-298.86l2.48,-2.60M7.71,-303.23l2.48,-2.60M7.71,-307.60l2.48,-2.60M7.71,-311.97l2.48,-2.60M7.71,-316.34l2.48,-2.60M7.71,-320.71l2.48,-2.60M7.71,-325.08l2.48,-2.60M12.16,6.74l2.48,-2.60M12.16,2.37l2.48,-2.60M12.16,-2.00l2.48,-2.60M12.16,-6.37l2.48,-2.60M12.16,-10.74l2.48,-2.60M12.16,-15.11l2.48,-2.60M12.16,-19.48l2.48,-2.60M12.16,-23.85l2.48,-2.60M12.16,-28.22l2.48,-2.60M12.16,-32.59l2.48,-2.60M12.16,-36.96l2.48,-2.60M12.16,-41.33l2.48,-2.60M12.16,-45.70l2.48,-2.60M12.16,-50.07l2.48,-2.60M12.16,-54.44l2.48,-2.60M12.16,-58.81l2.48,-2.60M12.16,-63.18l2.48,-2.60M12.16,-67.55l2.48,-2.60M12.16,-71.92l2.48,-2.60M12.16,-76.29l2.48,-2.60M12.16,-80.66l2.48,-2.60M12.16,-85.03l2.48,-2.60M12.16,-89.40l2.48,-2.60M12.16,-93.77l2.48,-2.60M12.16,-98.14l2.48,-2.60M12.16,-102.51l2.48,-2.60M12.16,-106.88l2.48,-2.60M12.16,-111.25l2.48,-2.60M12.16,-115.62l2.48,-2.60M12.16,-119.99l2.48,-2.60M12.16,-124.36l2.48,-2.60M12.16,-128.73l2.48,-2.60M12.16,-133.10l2.48,-2.60M12.16,-137.47l2.48,-2.60M12.16,-141.84l2.48,-2.60M12.16,-146.21l2.48,-2.60M12.16,-150.58l2.48,-2.60M12.16,-154.95l2.48,-2.60M12.16,-159.32l2.48,-2.60M12.16,-163.69l2.48,-2.60M12.16,-168.06l2.48,-2.60M12.16,-172.43l2.48,-2.60M12.16,-176.80l2.48,-2.60M12.16,-181.17l2.48,-2.60M12.16,-185.54l2.48,-2.60M12.16,-189.91l2.48,-2.60M12.16,-194.28l2.48,-2.60M12.16,-198.65l2.48,-2.60M12.16,-203.02l2.48,-2.60M12.16,-207.39l2.48,-2.60M12.16,-211.76l2.48,-2.60M12.16,-216.13l2.48,-2.60M12.16,-220.50l2.48,-2.60M12.16,-224.87l2.48,-2.60M12.16,-229.24l2.48,-2.60M12.16,-233.61l2.48,-2.60M12.16,-237.98l2.48,-2.60M12.16,-242.35l2.48,-2.60M12.16,-246.72l2.48,-2.60M12.16,-251.09l2.48,-2.60M12.16,-255.46l2.48,-2.60M12.16,-259.83l2.48,-2.60M12.16,-264.20l2.48,-2.60M12.16,-268.57l2.48,-2.60M12.16,-272.94l2.48,-2.60M12.16,-277.31l2.48,-2.60M12.16,-281.68l2.48,-2.60M12.16,-286.05l2.48,-2.60M12.16,-290.42l2.48,-2.60M12.16,-294.79l2.48,-2.60M12.16,-299.16l2.48,-2.60M12.16,-303.53l2.48,-2.60M12.16,-307.90l2.48,-2.60M12.16,-312.27l2.48,-2.60M12.16,-316.64l2.48,-2.60M12.16,-321.01l2.48,-2.60M12.16,-325.38l2.48,-2.60M16.61,6.44l2.48,-2.60M16.61,2.07l2.48,-2.60M16.61,-2.30l2.48,-2.60M16.61,-6.67l2.48,-2.60M16.61,-11.04l2.48,-2.60M16.61,-15.41l2.48,-2.60M16.61,-19.78l2.48,-2.60M16.61,-24.15l2.48,-2.60M16.61,-28.52l2.48,-2.60M16.61,-32.89l2.48,-2.60M16.61,-37.26l2.48,-2.60M16.61,-41.63l2.48,-2.60M16.61,-46.00l2.48,-2.60M16.61,-50.37l2.48,-2.60M16.61,-54.74l2.48,-2.60M16.61,-59.11l2.48,-2.60M16.61,-63.48l2.48,-2.60M16.61,-67.85l2.48,-2.60M16.61,-72.22l2.48,-2.60M16.61,-76.59l2.48,-2.60M16.61,-80.96l2.48,-2.60M16.61,-85.33l2.48,-2.60M16.61,-89.70l2.48,-2.60M16.61,-94.07l2.48,-2.60M16.61,-98.44l2.48,-2.60M16.61,-102.81l2.48,-2.60M16.61,-107.18l2.48,-2.60M16.61,-111.55l2.48,-2.60M16.61,-115.92l2.48,-2.60M16.61,-120.29l2.48,-2.60M16.61,-124.66l2.48,-2.60M16.61,-129.03l2.48,-2.60M16.61,-133.40l2.48,-2.60M16.61,-137.77l2.48,-2.60M16.61,-142.14l2.48,-2.60M16.61,-146.51l2.48,-2.60M16.61,-150.88l2.48,-2.60M16.61,-155.25l2.48,-2.60M16.61,-159.62l2.48,-2.60M16.61,-163.99l2.48,-2.60M16.61,-168.36l2.48,-2.60M16.61,-172.73l2.48,-2.60M16.61,-177.10l2.48,-2.60M16.61,-181.47l2.48,-2.60M16.61,-185.84l2.48,-2.60M16.61,-190.21l2.48,-2.60M16.61,-194.58l2.48,-2.60M16.61,-198.95l2.48,-2.60M16.61,-203.32l2.48,-2.60M16.61,-207.69l2.48,-2.60M16.61,-212.06l2.48,-2.60M16.61,-216.43l2.48,-2.60M16.61,-220.80l2.48,-2.60M16.61,-225.17l2.48,-2.60M16.61,-229.54l2.48,-2.60M16.61,-233.91l2.48,-2.60M16.61,-238.28l2.48,-2.60M16.61,-242.65l2.48,-2.60M16.61,-247.02l2.48,-2.60M16.61,-251.39l2.48,-2.60M16.61,-255.76l2.48,-2.60M16.61,-260.13l2.48,-2.60M16.61,-264.50l2.48,-2.60M16.61,-268.87l2.48,-2.60M16.61,-273.24l2.48,-2.60M16.61,-277.61l2.48,-2.60M16.61,-281.98l2.48,-2.60M16.61,-286.35l2.48,-2.60M16.61,-290.72l2.48,-2.60M16.61,-295.09l2.48,-2.60M16.61,-299.46l2.48,-2.60M16.61,-303.83l2.48,-2.60M16.61,-308.20l2.48,-2.60M16.61,-312.57l2.48,-2.60M16.61,-316.94l2.48,-2.60M16.61,-321.31l2.48,-2.60M16.61,-325.68l2.48,-2.60M21.06,6.14l2.48,-2.60M21.06,1.77l2.48,-2.60M21.06,-2.60l2.48,-2.60M21.06,-6.97l2.48,-2.60M21.06,-11.34l2.48,-2.60M21.06,-15.71l2.48,-2.60M21.06,-20.08l2.48,-2.60M21.06,-24.45l2.48,-2.60M21.06,-28.82l2.48,-2.60M21.06,-33.19l2.48,-2.60M21.06,-37.56l2.48,-2.60M21.06,-41.93l2.48,-2.60M21.06,-46.30l2.48,-2.60M21.06,-50.67l2.48,-2.60M21.06,-55.04l2.48,-2.60M21.06,-59.41l2.48,-2.60M21.06,-63.78l2.48,-2.60M21.06,-68.15l2.48,-2.60M21.06,-72.52l2.48,-2.60M21.06,-76.89l2.48,-2.60M21.06,-81.26l2.48,-2.60M21.06,-85.63l2.48,-2.60M21.06,-90.00l2.48,-2.60M21.06,-94.37l2.48,-2.60M21.06,-98.74l2.48,-2.60M21.06,-103.11l2.48,-2.60M21.06,-107.48l2.48,-2.60M21.06,-111.85l2.48,-2.60M21.06,-116.22l2.48,-2.60M21.06,-120.59l2.48,-2.60M21.06,-124.96l2.48,-2.60M21.06,-129.33l2.48,-2.60M21.06,-133.70l2.48,-2.60M21.06,-138.07l2.48,-2.60M21.06,-142.44l2.48,-2.60M21.06,-146.81l2.48,-2.60M21.06,-151.18l2.48,-2.60M21.06,-155.55l2.48,-2.60M21.06,-159.92l2.48,-2.60M21.06,-164.29l2.48,-2.60M21.06,-168.66l2.48,-2.60M21.06,-173.03l2.48,-2.60M21.06,-177.40l2.48,-2.60M21.06,-181.77l2.48,-2.60M21.06,-186.14l2.48,-2.60M21.06,-190.51l2.48,-2.60M21.06,-194.88l2.48,-2.60M21.06,-199.25l2.48,-2.60M21.06,-203.62l2.48,-2.60M21.06,-207.99l2.48,-2.60M21.06,-212.36l2.48,-2.60M21.06,-216.73l2.48,-2.60M21.06,-221.10l2.48,-2.60M21.06,-225.47l2.48,-2.60M21.06,-229.84l2.48,-2.60M21.06,-234.21l2.48,-2.60M21.06,-238.58l2.48,-2.60M21.06,-242.95l2.48,-2.60M21.06,-247.32l2.48,-2.60M21.06,-251.69l2.48,-2.60M21.06,-256.06l2.48,-2.60M21.06,-260.43l2.48,-2.60M21.06,-264.80l2.48,-2.60M21.06,-269.17l2.48,-2.60M21.06,-273.54l2.48,-2.60M21.06,-277.91l2.48,-2.60M21.06,-282.28l2.48,-2.60M21.06,-286.65l2.48,-2.60M21.06,-291.02l2.48,-2.60M21.06,-295.39l2.48,-2.60M21.06,-299.76l2.48,-2.60M21.06,-304.13l2.48,-2.60M21.06,-308.50l2.48,-2.60M21.06,-312.87l2.48,-2.60M21.06,-317.24l2.48,-2.60M21.06,-321.61l2.48,-2.60M21.06,-325.98l2.48,-2.60" stroke="#000" stroke-width="2.1" stroke-linecap="round" fill="none"/></g></svg>
<rect x="757.17" y="143.55" width="15.25" height="323.55" fill="none" stroke="#000" stroke-width="2.5"/>
<path d="M592.8,108.60 V468.60" stroke="#000" stroke-width="3.1" fill="none"/>
<path d="M585.20,467.10 H776.8" stroke="#000" stroke-width="3.1" fill="none"/>
<text transform="translate(584.6,473.33) scale(1.0,1)" text-anchor="end" font-size="17.4">0</text>
<path d="M585.40,377.80 H592.8" stroke="#000" stroke-width="3.0" fill="none"/>
<text transform="translate(584.6,384.03) scale(1.0,1)" text-anchor="end" font-size="17.4">5</text>
<path d="M585.40,288.50 H592.8" stroke="#000" stroke-width="3.0" fill="none"/>
<text transform="translate(584.6,294.73) scale(1.0,1)" text-anchor="end" font-size="17.4">10</text>
<path d="M585.40,199.20 H592.8" stroke="#000" stroke-width="3.0" fill="none"/>
<text transform="translate(584.6,205.43) scale(1.0,1)" text-anchor="end" font-size="17.4">15</text>
<path d="M585.40,109.90 H592.8" stroke="#000" stroke-width="3.0" fill="none"/>
<text transform="translate(584.6,116.13) scale(1.0,1)" text-anchor="end" font-size="17.4">20</text>
<path d="M603.80,467.10 V473.90" stroke="#000" stroke-width="3.0" fill="none"/>
<text transform="translate(603.50,492.0) scale(0.94,1)" text-anchor="middle" font-size="13.8">1</text>
<text x="604.00" y="512.40" text-anchor="middle" font-size="14">-</text>
<path d="M626.80,467.10 V473.90" stroke="#000" stroke-width="3.0" fill="none"/>
<text transform="translate(625.20,492.0) scale(0.94,1)" text-anchor="middle" font-size="13.8">2</text>
<text x="627.00" y="512.40" text-anchor="middle" font-size="14">+</text>
<path d="M649.80,467.10 V473.90" stroke="#000" stroke-width="3.0" fill="none"/>
<text transform="translate(649.00,492.0) scale(0.94,1)" text-anchor="middle" font-size="13.8">3</text>
<text x="651.00" y="512.40" text-anchor="middle" font-size="14">-</text>
<path d="M672.80,467.10 V473.90" stroke="#000" stroke-width="3.0" fill="none"/>
<text transform="translate(673.20,492.0) scale(0.94,1)" text-anchor="middle" font-size="13.8">4</text>
<text x="673.50" y="512.40" text-anchor="middle" font-size="14">+</text>
<path d="M695.80,467.10 V473.90" stroke="#000" stroke-width="3.0" fill="none"/>
<text transform="translate(695.20,492.0) scale(0.94,1)" text-anchor="middle" font-size="13.8">5</text>
<text x="695.50" y="512.40" text-anchor="middle" font-size="14">-</text>
<path d="M718.80,467.10 V473.90" stroke="#000" stroke-width="3.0" fill="none"/>
<text transform="translate(718.20,492.0) scale(0.94,1)" text-anchor="middle" font-size="13.8">6</text>
<text x="719.00" y="512.40" text-anchor="middle" font-size="14">+</text>
<path d="M741.80,467.10 V473.90" stroke="#000" stroke-width="3.0" fill="none"/>
<text transform="translate(741.00,492.0) scale(0.94,1)" text-anchor="middle" font-size="13.8">7</text>
<text x="742.20" y="512.40" text-anchor="middle" font-size="14">-</text>
<path d="M764.80,467.10 V473.90" stroke="#000" stroke-width="3.0" fill="none"/>
<text transform="translate(764.50,492.0) scale(0.94,1)" text-anchor="middle" font-size="13.8">8</text>
<text x="765.70" y="512.40" text-anchor="middle" font-size="14">+</text>
<text x="547.9" y="513.2" font-size="14.3">SAHA:</text>
<path d="M603.90,519.60 V523.20 H629.80 V519.60" stroke="#000" stroke-width="2.75" fill="none" stroke-linejoin="miter"/>
<path d="M649.40,519.60 V523.20 H675.30 V519.60" stroke="#000" stroke-width="2.75" fill="none" stroke-linejoin="miter"/>
<path d="M694.40,519.60 V523.20 H720.30 V519.60" stroke="#000" stroke-width="2.75" fill="none" stroke-linejoin="miter"/>
<path d="M742.20,519.60 V523.20 H767.80 V519.60" stroke="#000" stroke-width="2.75" fill="none" stroke-linejoin="miter"/>
<text class="it rot" transform="translate(620.20,536.0) rotate(-90) scale(0.912,1)" text-anchor="end" font-size="17">Wild-type</text>
<text class="it rot" transform="translate(670.20,536.0) rotate(-90) scale(0.885,1)" text-anchor="end" font-size="17">Pten<tspan font-size="11.6" dy="-4.9">+/-</tspan></text>
<text class="it rot" transform="translate(716.50,536.0) rotate(-90) scale(0.89,1)" text-anchor="end" font-size="17">Thrb<tspan font-size="11.6" dy="-4.9">PV/PV</tspan></text>
<text class="it rot" transform="translate(752.00,536.0) rotate(-90) scale(0.89,1)" text-anchor="end" font-size="17">Thrb<tspan font-size="11.6" dy="-4.9">PV/PV</tspan></text>
<text class="it rot" transform="translate(770.20,536.0) rotate(-90) scale(0.885,1)" text-anchor="end" font-size="17">Pten<tspan font-size="11.6" dy="-4.9">+/-</tspan></text>
<text class="it" x="731.30" y="65.7" font-size="13.5">p&lt;0.05</text>
<path d="M742.10,78.70 V74.30 H765.40 V78.70" stroke="#000" stroke-width="2.5" fill="none"/>
<text class="it" x="689.30" y="93.2" font-size="13.5">p&lt;0.01</text>
<path d="M655.10,105.70 V101.30 H760.90 V105.70" stroke="#000" stroke-width="2.5" fill="none"/>
<text class="it" x="659.30" y="116.1" font-size="13.5">p&lt;0.001</text>
<path d="M608.90,128.20 V123.80 H763.30 V128.20" stroke="#000" stroke-width="2.5" fill="none"/>
<text class="it" x="617.50" y="155.7" font-size="13.5">p&lt;0.001</text>
<path d="M607.50,168.20 V163.80 H692.70 V168.20" stroke="#000" stroke-width="2.5" fill="none"/>
</g>
<g>
<text transform="translate(811.6,46.75) scale(0.9409,1)" font-size="17.9">d. MMP7</text>
<text transform="translate(825.4,389.90) rotate(-90)" font-size="18.0" textLength="112.70" lengthAdjust="spacingAndGlyphs">Relative band</text>
<text transform="translate(825.4,272.80) rotate(-90)" font-size="18.0" textLength="92.20" lengthAdjust="spacingAndGlyphs">intensities</text>
<svg x="869.52" y="459.70" width="15.75" height="7.80" viewBox="1 -7.80 15.75 7.80" overflow="hidden"><g><rect x="0" y="-9.80" width="17.75" height="10.80" fill="#000"/><path d="M-2.10,-0.62H18.75M-2.10,-3.92H18.75M-2.10,-7.22H18.75" stroke="#fff" stroke-width="1.65" stroke-dasharray="1.65 1.65" fill="none"/><path d="M-0.45,-2.27H18.75M-0.45,-5.57H18.75M-0.45,-8.88H18.75" stroke="#fff" stroke-width="1.65" stroke-dasharray="1.65 1.65" fill="none"/></g></svg>
<rect x="869.77" y="459.95" width="15.25" height="7.55" fill="none" stroke="#000" stroke-width="2.5"/>
<svg x="892.45" y="460.50" width="15.75" height="7.00" viewBox="1 -7.00 15.75 7.00" overflow="hidden"><g><rect x="0" y="-9.00" width="17.75" height="10.00" fill="#000"/><path d="M-5.20,-1.95H18.75M-5.20,-8.55H18.75" stroke="#fff" stroke-width="3.3" stroke-dasharray="3.3 3.3" fill="none"/><path d="M-1.90,-5.25H18.75" stroke="#fff" stroke-width="3.3" stroke-dasharray="3.3 3.3" fill="none"/></g></svg>
<rect x="892.70" y="460.75" width="15.25" height="6.75" fill="none" stroke="#000" stroke-width="2.5"/>
<svg x="915.38" y="460.50" width="15.75" height="7.00" viewBox="1 -7.00 15.75 7.00" overflow="hidden"><g filter="url(#soft)"><rect x="0" y="-9.00" width="17.75" height="10.00" fill="#000"/><path d="M0,-0.90H17.75M0,-4.20H17.75M0,-7.50H17.75" stroke="#f2f2f2" stroke-width="1.3" fill="none"/></g></svg>
<rect x="915.63" y="460.75" width="15.25" height="6.75" fill="none" stroke="#000" stroke-width="2.5"/>
<svg x="938.31" y="458.00" width="15.75" height="9.50" viewBox="1 -9.50 15.75 9.50" overflow="hidden"><g filter="url(#soft)"><rect x="0" y="-11.50" width="17.75" height="12.50" fill="#000"/><path d="M3.00,-11.50V1M6.35,-11.50V1M9.70,-11.50V1M13.05,-11.50V1M16.40,-11.50V1" stroke="#c4c4c4" stroke-width="1.4" fill="none"/></g></svg>
<rect x="938.56" y="458.25" width="15.25" height="9.25" fill="none" stroke="#000" stroke-width="2.5"/>
<path d="M969.12,427.30 V415.50 M964.67,415.50 H973.57" stroke="#000" stroke-width="1.5" fill="none"/>
<svg x="961.25" y="427.30" width="15.75" height="40.20" viewBox="1 -40.20 15.75 40.20" overflow="hidden"><g><rect x="0" y="-42.20" width="17.75" height="43.20" fill="#000"/><path d="M-1,-47.30L18.75,-67.05M-1,-44.00L18.75,-63.75M-1,-40.70L18.75,-60.45M-1,-37.40L18.75,-57.15M-1,-34.10L18.75,-53.85M-1,-30.80L18.75,-50.55M-1,-27.50L18.75,-47.25M-1,-24.20L18.75,-43.95M-1,-20.90L18.75,-40.65M-1,-17.60L18.75,-37.35M-1,-14.30L18.75,-34.05M-1,-11.00L18.75,-30.75M-1,-7.70L18.75,-27.45M-1,-4.40L18.75,-24.15M-1,-1.10L18.75,-20.85M-1,2.20L18.75,-17.55M-1,5.50L18.75,-14.25M-1,8.80L18.75,-10.95M-1,12.10L18.75,-7.65M-1,15.40L18.75,-4.35M-1,18.70L18.75,-1.05" stroke="#fff" stroke-width="1.12" fill="none"/></g></svg>
<rect x="961.50" y="427.55" width="15.25" height="39.95" fill="none" stroke="#000" stroke-width="2.5"/>
<path d="M992.05,437.60 V420.70 M987.60,420.70 H996.50" stroke="#000" stroke-width="1.5" fill="none"/>
<svg x="984.17" y="437.60" width="15.75" height="29.90" viewBox="1 -29.90 15.75 29.90" overflow="hidden"><g><rect x="0" y="-31.90" width="17.75" height="32.90" fill="#000"/><path d="M-1,1.10L18.75,20.85M-1,-2.20L18.75,17.55M-1,-5.50L18.75,14.25M-1,-8.80L18.75,10.95M-1,-12.10L18.75,7.65M-1,-15.40L18.75,4.35M-1,-18.70L18.75,1.05M-1,-22.00L18.75,-2.25M-1,-25.30L18.75,-5.55M-1,-28.60L18.75,-8.85M-1,-31.90L18.75,-12.15M-1,-35.20L18.75,-15.45M-1,-38.50L18.75,-18.75M-1,-41.80L18.75,-22.05M-1,-45.10L18.75,-25.35M-1,-48.40L18.75,-28.65M-1,-51.70L18.75,-31.95M-1,-55.00L18.75,-35.25" stroke="#fff" stroke-width="1.12" fill="none"/></g></svg>
<rect x="984.42" y="437.85" width="15.25" height="29.65" fill="none" stroke="#000" stroke-width="2.5"/>
<path d="M1014.98,394.30 V366.40 M1010.53,366.40 H1019.43" stroke="#000" stroke-width="1.5" fill="none"/>
<svg x="1007.11" y="394.30" width="15.75" height="73.20" viewBox="1 -73.20 15.75 73.20" overflow="hidden"><g><rect x="0" y="-75.20" width="17.75" height="76.20" fill="#000"/><path d="M3.05,-75.20V1M6.35,-75.20V1M9.65,-75.20V1M12.95,-75.20V1M16.25,-75.20V1" stroke="#fff" stroke-opacity="0.6" stroke-width="1.6" fill="none"/><path d="M0,-0.15H17.75M0,-3.45H17.75M0,-6.75H17.75M0,-10.05H17.75M0,-13.35H17.75M0,-16.65H17.75M0,-19.95H17.75M0,-23.25H17.75M0,-26.55H17.75M0,-29.85H17.75M0,-33.15H17.75M0,-36.45H17.75M0,-39.75H17.75M0,-43.05H17.75M0,-46.35H17.75M0,-49.65H17.75M0,-52.95H17.75M0,-56.25H17.75M0,-59.55H17.75M0,-62.85H17.75M0,-66.15H17.75M0,-69.45H17.75M0,-72.75H17.75M0,-76.05H17.75" stroke="#fff" stroke-opacity="0.6" stroke-width="1.6" fill="none"/><path d="M2.50,-0.15h1.1M5.80,-0.15h1.1M9.10,-0.15h1.1M12.40,-0.15h1.1M15.70,-0.15h1.1M2.50,-3.45h1.1M5.80,-3.45h1.1M9.10,-3.45h1.1M12.40,-3.45h1.1M15.70,-3.45h1.1M2.50,-6.75h1.1M5.80,-6.75h1.1M9.10,-6.75h1.1M12.40,-6.75h1.1M15.70,-6.75h1.1M2.50,-10.05h1.1M5.80,-10.05h1.1M9.10,-10.05h1.1M12.40,-10.05h1.1M15.70,-10.05h1.1M2.50,-13.35h1.1M5.80,-13.35h1.1M9.10,-13.35h1.1M12.40,-13.35h1.1M15.70,-13.35h1.1M2.50,-16.65h1.1M5.80,-16.65h1.1M9.10,-16.65h1.1M12.40,-16.65h1.1M15.70,-16.65h1.1M2.50,-19.95h1.1M5.80,-19.95h1.1M9.10,-19.95h1.1M12.40,-19.95h1.1M15.70,-19.95h1.1M2.50,-23.25h1.1M5.80,-23.25h1.1M9.10,-23.25h1.1M12.40,-23.25h1.1M15.70,-23.25h1.1M2.50,-26.55h1.1M5.80,-26.55h1.1M9.10,-26.55h1.1M12.40,-26.55h1.1M15.70,-26.55h1.1M2.50,-29.85h1.1M5.80,-29.85h1.1M9.10,-29.85h1.1M12.40,-29.85h1.1M15.70,-29.85h1.1M2.50,-33.15h1.1M5.80,-33.15h1.1M9.10,-33.15h1.1M12.40,-33.15h1.1M15.70,-33.15h1.1M2.50,-36.45h1.1M5.80,-36.45h1.1M9.10,-36.45h1.1M12.40,-36.45h1.1M15.70,-36.45h1.1M2.50,-39.75h1.1M5.80,-39.75h1.1M9.10,-39.75h1.1M12.40,-39.75h1.1M15.70,-39.75h1.1M2.50,-43.05h1.1M5.80,-43.05h1.1M9.10,-43.05h1.1M12.40,-43.05h1.1M15.70,-43.05h1.1M2.50,-46.35h1.1M5.80,-46.35h1.1M9.10,-46.35h1.1M12.40,-46.35h1.1M15.70,-46.35h1.1M2.50,-49.65h1.1M5.80,-49.65h1.1M9.10,-49.65h1.1M12.40,-49.65h1.1M15.70,-49.65h1.1M2.50,-52.95h1.1M5.80,-52.95h1.1M9.10,-52.95h1.1M12.40,-52.95h1.1M15.70,-52.95h1.1M2.50,-56.25h1.1M5.80,-56.25h1.1M9.10,-56.25h1.1M12.40,-56.25h1.1M15.70,-56.25h1.1M2.50,-59.55h1.1M5.80,-59.55h1.1M9.10,-59.55h1.1M12.40,-59.55h1.1M15.70,-59.55h1.1M2.50,-62.85h1.1M5.80,-62.85h1.1M9.10,-62.85h1.1M12.40,-62.85h1.1M15.70,-62.85h1.1M2.50,-66.15h1.1M5.80,-66.15h1.1M9.10,-66.15h1.1M12.40,-66.15h1.1M15.70,-66.15h1.1M2.50,-69.45h1.1M5.80,-69.45h1.1M9.10,-69.45h1.1M12.40,-69.45h1.1M15.70,-69.45h1.1M2.50,-72.75h1.1M5.80,-72.75h1.1M9.10,-72.75h1.1M12.40,-72.75h1.1M15.70,-72.75h1.1M2.50,-76.05h1.1M5.80,-76.05h1.1M9.10,-76.05h1.1M12.40,-76.05h1.1M15.70,-76.05h1.1" stroke="#fff" stroke-opacity="0.85" stroke-width="1.1" fill="none"/></g></svg>
<rect x="1007.36" y="394.55" width="15.25" height="72.95" fill="none" stroke="#000" stroke-width="2.5"/>
<path d="M1037.91,159.30 V138.80 M1033.46,138.80 H1042.36" stroke="#000" stroke-width="1.5" fill="none"/>
<svg x="1030.03" y="159.30" width="15.75" height="308.20" viewBox="1 -308.20 15.75 308.20" overflow="hidden"><g><rect x="0" y="-310.20" width="17.75" height="311.20" fill="#f2f2f2"/><path d="M-1.19,7.64l2.48,-2.60M-1.19,3.27l2.48,-2.60M-1.19,-1.10l2.48,-2.60M-1.19,-5.47l2.48,-2.60M-1.19,-9.84l2.48,-2.60M-1.19,-14.21l2.48,-2.60M-1.19,-18.58l2.48,-2.60M-1.19,-22.95l2.48,-2.60M-1.19,-27.32l2.48,-2.60M-1.19,-31.69l2.48,-2.60M-1.19,-36.06l2.48,-2.60M-1.19,-40.43l2.48,-2.60M-1.19,-44.80l2.48,-2.60M-1.19,-49.17l2.48,-2.60M-1.19,-53.54l2.48,-2.60M-1.19,-57.91l2.48,-2.60M-1.19,-62.28l2.48,-2.60M-1.19,-66.65l2.48,-2.60M-1.19,-71.02l2.48,-2.60M-1.19,-75.39l2.48,-2.60M-1.19,-79.76l2.48,-2.60M-1.19,-84.13l2.48,-2.60M-1.19,-88.50l2.48,-2.60M-1.19,-92.87l2.48,-2.60M-1.19,-97.24l2.48,-2.60M-1.19,-101.61l2.48,-2.60M-1.19,-105.98l2.48,-2.60M-1.19,-110.35l2.48,-2.60M-1.19,-114.72l2.48,-2.60M-1.19,-119.09l2.48,-2.60M-1.19,-123.46l2.48,-2.60M-1.19,-127.83l2.48,-2.60M-1.19,-132.20l2.48,-2.60M-1.19,-136.57l2.48,-2.60M-1.19,-140.94l2.48,-2.60M-1.19,-145.31l2.48,-2.60M-1.19,-149.68l2.48,-2.60M-1.19,-154.05l2.48,-2.60M-1.19,-158.42l2.48,-2.60M-1.19,-162.79l2.48,-2.60M-1.19,-167.16l2.48,-2.60M-1.19,-171.53l2.48,-2.60M-1.19,-175.90l2.48,-2.60M-1.19,-180.27l2.48,-2.60M-1.19,-184.64l2.48,-2.60M-1.19,-189.01l2.48,-2.60M-1.19,-193.38l2.48,-2.60M-1.19,-197.75l2.48,-2.60M-1.19,-202.12l2.48,-2.60M-1.19,-206.49l2.48,-2.60M-1.19,-210.86l2.48,-2.60M-1.19,-215.23l2.48,-2.60M-1.19,-219.60l2.48,-2.60M-1.19,-223.97l2.48,-2.60M-1.19,-228.34l2.48,-2.60M-1.19,-232.71l2.48,-2.60M-1.19,-237.08l2.48,-2.60M-1.19,-241.45l2.48,-2.60M-1.19,-245.82l2.48,-2.60M-1.19,-250.19l2.48,-2.60M-1.19,-254.56l2.48,-2.60M-1.19,-258.93l2.48,-2.60M-1.19,-263.30l2.48,-2.60M-1.19,-267.67l2.48,-2.60M-1.19,-272.04l2.48,-2.60M-1.19,-276.41l2.48,-2.60M-1.19,-280.78l2.48,-2.60M-1.19,-285.15l2.48,-2.60M-1.19,-289.52l2.48,-2.60M-1.19,-293.89l2.48,-2.60M-1.19,-298.26l2.48,-2.60M-1.19,-302.63l2.48,-2.60M-1.19,-307.00l2.48,-2.60M-1.19,-311.37l2.48,-2.60M3.26,7.34l2.48,-2.60M3.26,2.97l2.48,-2.60M3.26,-1.40l2.48,-2.60M3.26,-5.77l2.48,-2.60M3.26,-10.14l2.48,-2.60M3.26,-14.51l2.48,-2.60M3.26,-18.88l2.48,-2.60M3.26,-23.25l2.48,-2.60M3.26,-27.62l2.48,-2.60M3.26,-31.99l2.48,-2.60M3.26,-36.36l2.48,-2.60M3.26,-40.73l2.48,-2.60M3.26,-45.10l2.48,-2.60M3.26,-49.47l2.48,-2.60M3.26,-53.84l2.48,-2.60M3.26,-58.21l2.48,-2.60M3.26,-62.58l2.48,-2.60M3.26,-66.95l2.48,-2.60M3.26,-71.32l2.48,-2.60M3.26,-75.69l2.48,-2.60M3.26,-80.06l2.48,-2.60M3.26,-84.43l2.48,-2.60M3.26,-88.80l2.48,-2.60M3.26,-93.17l2.48,-2.60M3.26,-97.54l2.48,-2.60M3.26,-101.91l2.48,-2.60M3.26,-106.28l2.48,-2.60M3.26,-110.65l2.48,-2.60M3.26,-115.02l2.48,-2.60M3.26,-119.39l2.48,-2.60M3.26,-123.76l2.48,-2.60M3.26,-128.13l2.48,-2.60M3.26,-132.50l2.48,-2.60M3.26,-136.87l2.48,-2.60M3.26,-141.24l2.48,-2.60M3.26,-145.61l2.48,-2.60M3.26,-149.98l2.48,-2.60M3.26,-154.35l2.48,-2.60M3.26,-158.72l2.48,-2.60M3.26,-163.09l2.48,-2.60M3.26,-167.46l2.48,-2.60M3.26,-171.83l2.48,-2.60M3.26,-176.20l2.48,-2.60M3.26,-180.57l2.48,-2.60M3.26,-184.94l2.48,-2.60M3.26,-189.31l2.48,-2.60M3.26,-193.68l2.48,-2.60M3.26,-198.05l2.48,-2.60M3.26,-202.42l2.48,-2.60M3.26,-206.79l2.48,-2.60M3.26,-211.16l2.48,-2.60M3.26,-215.53l2.48,-2.60M3.26,-219.90l2.48,-2.60M3.26,-224.27l2.48,-2.60M3.26,-228.64l2.48,-2.60M3.26,-233.01l2.48,-2.60M3.26,-237.38l2.48,-2.60M3.26,-241.75l2.48,-2.60M3.26,-246.12l2.48,-2.60M3.26,-250.49l2.48,-2.60M3.26,-254.86l2.48,-2.60M3.26,-259.23l2.48,-2.60M3.26,-263.60l2.48,-2.60M3.26,-267.97l2.48,-2.60M3.26,-272.34l2.48,-2.60M3.26,-276.71l2.48,-2.60M3.26,-281.08l2.48,-2.60M3.26,-285.45l2.48,-2.60M3.26,-289.82l2.48,-2.60M3.26,-294.19l2.48,-2.60M3.26,-298.56l2.48,-2.60M3.26,-302.93l2.48,-2.60M3.26,-307.30l2.48,-2.60M3.26,-311.67l2.48,-2.60M7.71,7.04l2.48,-2.60M7.71,2.67l2.48,-2.60M7.71,-1.70l2.48,-2.60M7.71,-6.07l2.48,-2.60M7.71,-10.44l2.48,-2.60M7.71,-14.81l2.48,-2.60M7.71,-19.18l2.48,-2.60M7.71,-23.55l2.48,-2.60M7.71,-27.92l2.48,-2.60M7.71,-32.29l2.48,-2.60M7.71,-36.66l2.48,-2.60M7.71,-41.03l2.48,-2.60M7.71,-45.40l2.48,-2.60M7.71,-49.77l2.48,-2.60M7.71,-54.14l2.48,-2.60M7.71,-58.51l2.48,-2.60M7.71,-62.88l2.48,-2.60M7.71,-67.25l2.48,-2.60M7.71,-71.62l2.48,-2.60M7.71,-75.99l2.48,-2.60M7.71,-80.36l2.48,-2.60M7.71,-84.73l2.48,-2.60M7.71,-89.10l2.48,-2.60M7.71,-93.47l2.48,-2.60M7.71,-97.84l2.48,-2.60M7.71,-102.21l2.48,-2.60M7.71,-106.58l2.48,-2.60M7.71,-110.95l2.48,-2.60M7.71,-115.32l2.48,-2.60M7.71,-119.69l2.48,-2.60M7.71,-124.06l2.48,-2.60M7.71,-128.43l2.48,-2.60M7.71,-132.80l2.48,-2.60M7.71,-137.17l2.48,-2.60M7.71,-141.54l2.48,-2.60M7.71,-145.91l2.48,-2.60M7.71,-150.28l2.48,-2.60M7.71,-154.65l2.48,-2.60M7.71,-159.02l2.48,-2.60M7.71,-163.39l2.48,-2.60M7.71,-167.76l2.48,-2.60M7.71,-172.13l2.48,-2.60M7.71,-176.50l2.48,-2.60M7.71,-180.87l2.48,-2.60M7.71,-185.24l2.48,-2.60M7.71,-189.61l2.48,-2.60M7.71,-193.98l2.48,-2.60M7.71,-198.35l2.48,-2.60M7.71,-202.72l2.48,-2.60M7.71,-207.09l2.48,-2.60M7.71,-211.46l2.48,-2.60M7.71,-215.83l2.48,-2.60M7.71,-220.20l2.48,-2.60M7.71,-224.57l2.48,-2.60M7.71,-228.94l2.48,-2.60M7.71,-233.31l2.48,-2.60M7.71,-237.68l2.48,-2.60M7.71,-242.05l2.48,-2.60M7.71,-246.42l2.48,-2.60M7.71,-250.79l2.48,-2.60M7.71,-255.16l2.48,-2.60M7.71,-259.53l2.48,-2.60M7.71,-263.90l2.48,-2.60M7.71,-268.27l2.48,-2.60M7.71,-272.64l2.48,-2.60M7.71,-277.01l2.48,-2.60M7.71,-281.38l2.48,-2.60M7.71,-285.75l2.48,-2.60M7.71,-290.12l2.48,-2.60M7.71,-294.49l2.48,-2.60M7.71,-298.86l2.48,-2.60M7.71,-303.23l2.48,-2.60M7.71,-307.60l2.48,-2.60M12.16,6.74l2.48,-2.60M12.16,2.37l2.48,-2.60M12.16,-2.00l2.48,-2.60M12.16,-6.37l2.48,-2.60M12.16,-10.74l2.48,-2.60M12.16,-15.11l2.48,-2.60M12.16,-19.48l2.48,-2.60M12.16,-23.85l2.48,-2.60M12.16,-28.22l2.48,-2.60M12.16,-32.59l2.48,-2.60M12.16,-36.96l2.48,-2.60M12.16,-41.33l2.48,-2.60M12.16,-45.70l2.48,-2.60M12.16,-50.07l2.48,-2.60M12.16,-54.44l2.48,-2.60M12.16,-58.81l2.48,-2.60M12.16,-63.18l2.48,-2.60M12.16,-67.55l2.48,-2.60M12.16,-71.92l2.48,-2.60M12.16,-76.29l2.48,-2.60M12.16,-80.66l2.48,-2.60M12.16,-85.03l2.48,-2.60M12.16,-89.40l2.48,-2.60M12.16,-93.77l2.48,-2.60M12.16,-98.14l2.48,-2.60M12.16,-102.51l2.48,-2.60M12.16,-106.88l2.48,-2.60M12.16,-111.25l2.48,-2.60M12.16,-115.62l2.48,-2.60M12.16,-119.99l2.48,-2.60M12.16,-124.36l2.48,-2.60M12.16,-128.73l2.48,-2.60M12.16,-133.10l2.48,-2.60M12.16,-137.47l2.48,-2.60M12.16,-141.84l2.48,-2.60M12.16,-146.21l2.48,-2.60M12.16,-150.58l2.48,-2.60M12.16,-154.95l2.48,-2.60M12.16,-159.32l2.48,-2.60M12.16,-163.69l2.48,-2.60M12.16,-168.06l2.48,-2.60M12.16,-172.43l2.48,-2.60M12.16,-176.80l2.48,-2.60M12.16,-181.17l2.48,-2.60M12.16,-185.54l2.48,-2.60M12.16,-189.91l2.48,-2.60M12.16,-194.28l2.48,-2.60M12.16,-198.65l2.48,-2.60M12.16,-203.02l2.48,-2.60M12.16,-207.39l2.48,-2.60M12.16,-211.76l2.48,-2.60M12.16,-216.13l2.48,-2.60M12.16,-220.50l2.48,-2.60M12.16,-224.87l2.48,-2.60M12.16,-229.24l2.48,-2.60M12.16,-233.61l2.48,-2.60M12.16,-237.98l2.48,-2.60M12.16,-242.35l2.48,-2.60M12.16,-246.72l2.48,-2.60M12.16,-251.09l2.48,-2.60M12.16,-255.46l2.48,-2.60M12.16,-259.83l2.48,-2.60M12.16,-264.20l2.48,-2.60M12.16,-268.57l2.48,-2.60M12.16,-272.94l2.48,-2.60M12.16,-277.31l2.48,-2.60M12.16,-281.68l2.48,-2.60M12.16,-286.05l2.48,-2.60M12.16,-290.42l2.48,-2.60M12.16,-294.79l2.48,-2.60M12.16,-299.16l2.48,-2.60M12.16,-303.53l2.48,-2.60M12.16,-307.90l2.48,-2.60M16.61,6.44l2.48,-2.60M16.61,2.07l2.48,-2.60M16.61,-2.30l2.48,-2.60M16.61,-6.67l2.48,-2.60M16.61,-11.04l2.48,-2.60M16.61,-15.41l2.48,-2.60M16.61,-19.78l2.48,-2.60M16.61,-24.15l2.48,-2.60M16.61,-28.52l2.48,-2.60M16.61,-32.89l2.48,-2.60M16.61,-37.26l2.48,-2.60M16.61,-41.63l2.48,-2.60M16.61,-46.00l2.48,-2.60M16.61,-50.37l2.48,-2.60M16.61,-54.74l2.48,-2.60M16.61,-59.11l2.48,-2.60M16.61,-63.48l2.48,-2.60M16.61,-67.85l2.48,-2.60M16.61,-72.22l2.48,-2.60M16.61,-76.59l2.48,-2.60M16.61,-80.96l2.48,-2.60M16.61,-85.33l2.48,-2.60M16.61,-89.70l2.48,-2.60M16.61,-94.07l2.48,-2.60M16.61,-98.44l2.48,-2.60M16.61,-102.81l2.48,-2.60M16.61,-107.18l2.48,-2.60M16.61,-111.55l2.48,-2.60M16.61,-115.92l2.48,-2.60M16.61,-120.29l2.48,-2.60M16.61,-124.66l2.48,-2.60M16.61,-129.03l2.48,-2.60M16.61,-133.40l2.48,-2.60M16.61,-137.77l2.48,-2.60M16.61,-142.14l2.48,-2.60M16.61,-146.51l2.48,-2.60M16.61,-150.88l2.48,-2.60M16.61,-155.25l2.48,-2.60M16.61,-159.62l2.48,-2.60M16.61,-163.99l2.48,-2.60M16.61,-168.36l2.48,-2.60M16.61,-172.73l2.48,-2.60M16.61,-177.10l2.48,-2.60M16.61,-181.47l2.48,-2.60M16.61,-185.84l2.48,-2.60M16.61,-190.21l2.48,-2.60M16.61,-194.58l2.48,-2.60M16.61,-198.95l2.48,-2.60M16.61,-203.32l2.48,-2.60M16.61,-207.69l2.48,-2.60M16.61,-212.06l2.48,-2.60M16.61,-216.43l2.48,-2.60M16.61,-220.80l2.48,-2.60M16.61,-225.17l2.48,-2.60M16.61,-229.54l2.48,-2.60M16.61,-233.91l2.48,-2.60M16.61,-238.28l2.48,-2.60M16.61,-242.65l2.48,-2.60M16.61,-247.02l2.48,-2.60M16.61,-251.39l2.48,-2.60M16.61,-255.76l2.48,-2.60M16.61,-260.13l2.48,-2.60M16.61,-264.50l2.48,-2.60M16.61,-268.87l2.48,-2.60M16.61,-273.24l2.48,-2.60M16.61,-277.61l2.48,-2.60M16.61,-281.98l2.48,-2.60M16.61,-286.35l2.48,-2.60M16.61,-290.72l2.48,-2.60M16.61,-295.09l2.48,-2.60M16.61,-299.46l2.48,-2.60M16.61,-303.83l2.48,-2.60M16.61,-308.20l2.48,-2.60M21.06,6.14l2.48,-2.60M21.06,1.77l2.48,-2.60M21.06,-2.60l2.48,-2.60M21.06,-6.97l2.48,-2.60M21.06,-11.34l2.48,-2.60M21.06,-15.71l2.48,-2.60M21.06,-20.08l2.48,-2.60M21.06,-24.45l2.48,-2.60M21.06,-28.82l2.48,-2.60M21.06,-33.19l2.48,-2.60M21.06,-37.56l2.48,-2.60M21.06,-41.93l2.48,-2.60M21.06,-46.30l2.48,-2.60M21.06,-50.67l2.48,-2.60M21.06,-55.04l2.48,-2.60M21.06,-59.41l2.48,-2.60M21.06,-63.78l2.48,-2.60M21.06,-68.15l2.48,-2.60M21.06,-72.52l2.48,-2.60M21.06,-76.89l2.48,-2.60M21.06,-81.26l2.48,-2.60M21.06,-85.63l2.48,-2.60M21.06,-90.00l2.48,-2.60M21.06,-94.37l2.48,-2.60M21.06,-98.74l2.48,-2.60M21.06,-103.11l2.48,-2.60M21.06,-107.48l2.48,-2.60M21.06,-111.85l2.48,-2.60M21.06,-116.22l2.48,-2.60M21.06,-120.59l2.48,-2.60M21.06,-124.96l2.48,-2.60M21.06,-129.33l2.48,-2.60M21.06,-133.70l2.48,-2.60M21.06,-138.07l2.48,-2.60M21.06,-142.44l2.48,-2.60M21.06,-146.81l2.48,-2.60M21.06,-151.18l2.48,-2.60M21.06,-155.55l2.48,-2.60M21.06,-159.92l2.48,-2.60M21.06,-164.29l2.48,-2.60M21.06,-168.66l2.48,-2.60M21.06,-173.03l2.48,-2.60M21.06,-177.40l2.48,-2.60M21.06,-181.77l2.48,-2.60M21.06,-186.14l2.48,-2.60M21.06,-190.51l2.48,-2.60M21.06,-194.88l2.48,-2.60M21.06,-199.25l2.48,-2.60M21.06,-203.62l2.48,-2.60M21.06,-207.99l2.48,-2.60M21.06,-212.36l2.48,-2.60M21.06,-216.73l2.48,-2.60M21.06,-221.10l2.48,-2.60M21.06,-225.47l2.48,-2.60M21.06,-229.84l2.48,-2.60M21.06,-234.21l2.48,-2.60M21.06,-238.58l2.48,-2.60M21.06,-242.95l2.48,-2.60M21.06,-247.32l2.48,-2.60M21.06,-251.69l2.48,-2.60M21.06,-256.06l2.48,-2.60M21.06,-260.43l2.48,-2.60M21.06,-264.80l2.48,-2.60M21.06,-269.17l2.48,-2.60M21.06,-273.54l2.48,-2.60M21.06,-277.91l2.48,-2.60M21.06,-282.28l2.48,-2.60M21.06,-286.65l2.48,-2.60M21.06,-291.02l2.48,-2.60M21.06,-295.39l2.48,-2.60M21.06,-299.76l2.48,-2.60M21.06,-304.13l2.48,-2.60M21.06,-308.50l2.48,-2.60" stroke="#000" stroke-width="2.1" stroke-linecap="round" fill="none"/></g></svg>
<rect x="1030.28" y="159.55" width="15.25" height="307.95" fill="none" stroke="#000" stroke-width="2.5"/>
<path d="M865.9,111.80 V469.00" stroke="#000" stroke-width="3.1" fill="none"/>
<path d="M858.30,467.50 H1049.1" stroke="#000" stroke-width="3.1" fill="none"/>
<text transform="translate(856.8,473.73) scale(1.0,1)" text-anchor="end" font-size="17.4">0</text>
<path d="M858.50,378.90 H865.9" stroke="#000" stroke-width="3.0" fill="none"/>
<text transform="translate(856.8,385.13) scale(1.0,1)" text-anchor="end" font-size="17.4">5</text>
<path d="M858.50,290.30 H865.9" stroke="#000" stroke-width="3.0" fill="none"/>
<text transform="translate(856.8,296.53) scale(1.0,1)" text-anchor="end" font-size="17.4">10</text>
<path d="M858.50,201.70 H865.9" stroke="#000" stroke-width="3.0" fill="none"/>
<text transform="translate(856.8,207.93) scale(1.0,1)" text-anchor="end" font-size="17.4">15</text>
<path d="M858.50,113.10 H865.9" stroke="#000" stroke-width="3.0" fill="none"/>
<text transform="translate(856.8,119.33) scale(1.0,1)" text-anchor="end" font-size="17.4">20</text>
<path d="M877.40,467.50 V474.30" stroke="#000" stroke-width="3.0" fill="none"/>
<text transform="translate(877.50,493.0) scale(0.94,1)" text-anchor="middle" font-size="13.8">1</text>
<text x="877.50" y="513.70" text-anchor="middle" font-size="14">-</text>
<path d="M900.33,467.50 V474.30" stroke="#000" stroke-width="3.0" fill="none"/>
<text transform="translate(898.70,493.0) scale(0.94,1)" text-anchor="middle" font-size="13.8">2</text>
<text x="900.50" y="513.70" text-anchor="middle" font-size="14">+</text>
<path d="M923.26,467.50 V474.30" stroke="#000" stroke-width="3.0" fill="none"/>
<text transform="translate(922.50,493.0) scale(0.94,1)" text-anchor="middle" font-size="13.8">3</text>
<text x="924.20" y="513.70" text-anchor="middle" font-size="14">-</text>
<path d="M946.19,467.50 V474.30" stroke="#000" stroke-width="3.0" fill="none"/>
<text transform="translate(946.70,493.0) scale(0.94,1)" text-anchor="middle" font-size="13.8">4</text>
<text x="947.20" y="513.70" text-anchor="middle" font-size="14">+</text>
<path d="M969.12,467.50 V474.30" stroke="#000" stroke-width="3.0" fill="none"/>
<text transform="translate(968.50,493.0) scale(0.94,1)" text-anchor="middle" font-size="13.8">5</text>
<text x="969.20" y="513.70" text-anchor="middle" font-size="14">-</text>
<path d="M992.05,467.50 V474.30" stroke="#000" stroke-width="3.0" fill="none"/>
<text transform="translate(991.70,493.0) scale(0.94,1)" text-anchor="middle" font-size="13.8">6</text>
<text x="992.50" y="513.70" text-anchor="middle" font-size="14">+</text>
<path d="M1014.98,467.50 V474.30" stroke="#000" stroke-width="3.0" fill="none"/>
<text transform="translate(1014.20,493.0) scale(0.94,1)" text-anchor="middle" font-size="13.8">7</text>
<text x="1015.00" y="513.70" text-anchor="middle" font-size="14">-</text>
<path d="M1037.91,467.50 V474.30" stroke="#000" stroke-width="3.0" fill="none"/>
<text transform="translate(1038.00,493.0) scale(0.94,1)" text-anchor="middle" font-size="13.8">8</text>
<text x="1039.20" y="513.70" text-anchor="middle" font-size="14">+</text>
<text x="820.8" y="514.5" font-size="14.3">SAHA:</text>
<path d="M876.70,519.60 V523.20 H903.00 V519.60" stroke="#000" stroke-width="2.75" fill="none" stroke-linejoin="miter"/>
<path d="M922.40,519.60 V523.20 H948.80 V519.60" stroke="#000" stroke-width="2.75" fill="none" stroke-linejoin="miter"/>
<path d="M967.40,519.60 V523.20 H993.30 V519.60" stroke="#000" stroke-width="2.75" fill="none" stroke-linejoin="miter"/>
<path d="M1015.40,519.60 V523.20 H1041.30 V519.60" stroke="#000" stroke-width="2.75" fill="none" stroke-linejoin="miter"/>
<text class="it rot" transform="translate(893.00,538.5) rotate(-90) scale(0.912,1)" text-anchor="end" font-size="17">Wild-type</text>
<text class="it rot" transform="translate(943.50,538.5) rotate(-90) scale(0.885,1)" text-anchor="end" font-size="17">Pten<tspan font-size="11.6" dy="-4.9">+/-</tspan></text>
<text class="it rot" transform="translate(989.70,538.5) rotate(-90) scale(0.89,1)" text-anchor="end" font-size="17">Thrb<tspan font-size="11.6" dy="-4.9">PV/PV</tspan></text>
<text class="it rot" transform="translate(1025.00,538.5) rotate(-90) scale(0.89,1)" text-anchor="end" font-size="17">Thrb<tspan font-size="11.6" dy="-4.9">PV/PV</tspan></text>
<text class="it rot" transform="translate(1043.50,538.5) rotate(-90) scale(0.885,1)" text-anchor="end" font-size="17">Pten<tspan font-size="11.6" dy="-4.9">+/-</tspan></text>
<text class="it" x="999.00" y="69.9" font-size="13.5">p&lt;0.01</text>
<path d="M1013.70,81.70 V77.30 H1033.50 V81.70" stroke="#000" stroke-width="2.5" fill="none"/>
<text class="it" x="958.50" y="93.2" font-size="13.5">p&lt;0.001</text>
<path d="M928.40,108.70 V104.30 H1033.80 V108.70" stroke="#000" stroke-width="2.5" fill="none"/>
<text class="it" x="933.30" y="120.8" font-size="13.5">p&lt;0.001</text>
<path d="M882.40,133.90 V129.50 H1036.30 V133.90" stroke="#000" stroke-width="2.5" fill="none"/>
</g>
</svg>
</body></html>
